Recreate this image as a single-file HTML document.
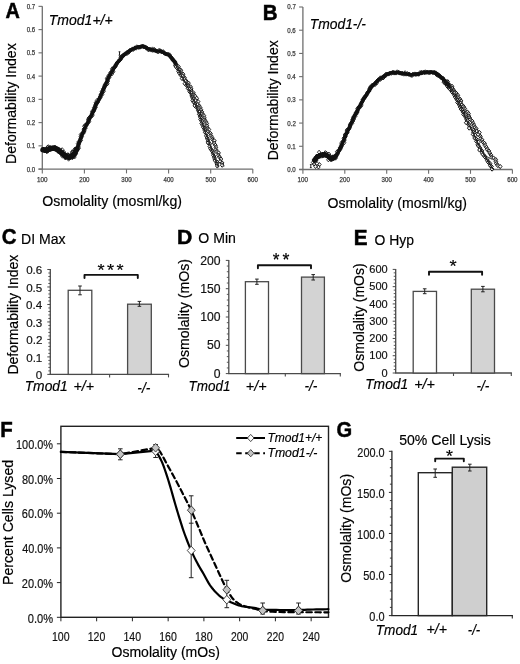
<!DOCTYPE html>
<html><head><meta charset="utf-8"><style>
html,body{margin:0;padding:0;background:#fff;}
svg{display:block;}
text{font-family:"Liberation Sans", sans-serif;}
svg{will-change:transform;}
</style></head><body>
<svg width="520" height="664" viewBox="0 0 520 664">
<defs><path id="dm" d="M0,-2.1 L1.8,0 L0,2.1 L-1.8,0Z" fill="#fff" stroke="#111" stroke-width="1"/><path id="dn" d="M0,-2 L1.7,0 L0,2 L-1.7,0Z" fill="none" stroke="#111" stroke-width="0.85"/></defs>
<rect x="0" y="0" width="520" height="664" fill="#fff"/>
<text x="5.55" y="18.25" font-size="21.88" font-weight="bold" fill="#000" stroke="#000" stroke-width="0.5" textLength="14.34" lengthAdjust="spacingAndGlyphs">A</text>
<text x="262.72" y="19.65" font-size="21.45" font-weight="bold" fill="#000" stroke="#000" stroke-width="0.5" textLength="14.8" lengthAdjust="spacingAndGlyphs">B</text>
<text x="1.73" y="244.35" font-size="21.93" font-weight="bold" fill="#000" stroke="#000" stroke-width="0.5" textLength="14.77" lengthAdjust="spacingAndGlyphs">C</text>
<text x="176.98" y="243.75" font-size="21.01" font-weight="bold" fill="#000" stroke="#000" stroke-width="0.5" textLength="15.27" lengthAdjust="spacingAndGlyphs">D</text>
<text x="353.70" y="245.05" font-size="21.59" font-weight="bold" fill="#000" stroke="#000" stroke-width="0.5" textLength="13.81" lengthAdjust="spacingAndGlyphs">E</text>
<text x="0.32" y="437.45" font-size="21.59" font-weight="bold" fill="#000" stroke="#000" stroke-width="0.5" textLength="12.46" lengthAdjust="spacingAndGlyphs">F</text>
<text x="336.54" y="437.45" font-size="22.43" font-weight="bold" fill="#000" stroke="#000" stroke-width="0.5" textLength="15.67" lengthAdjust="spacingAndGlyphs">G</text>
<line x1="42.30" y1="6.35" x2="42.30" y2="169.10" stroke="#6e6e6e" stroke-width="1.3"/>
<line x1="38.50" y1="169.10" x2="252.80" y2="169.10" stroke="#6e6e6e" stroke-width="1.3"/>
<line x1="38.50" y1="169.10" x2="42.30" y2="169.10" stroke="#6e6e6e" stroke-width="1.1"/>
<text x="26.66" y="171.55" font-size="6.8" fill="#3a3a3a" stroke="#3a3a3a" stroke-width="0.25" textLength="8.46" lengthAdjust="spacingAndGlyphs">0.0</text>
<line x1="38.50" y1="145.85" x2="42.30" y2="145.85" stroke="#6e6e6e" stroke-width="1.1"/>
<text x="26.65" y="148.30" font-size="6.8" fill="#3a3a3a" stroke="#3a3a3a" stroke-width="0.25" textLength="8.52" lengthAdjust="spacingAndGlyphs">0.1</text>
<line x1="38.50" y1="122.60" x2="42.30" y2="122.60" stroke="#6e6e6e" stroke-width="1.1"/>
<text x="26.65" y="125.05" font-size="6.8" fill="#3a3a3a" stroke="#3a3a3a" stroke-width="0.25" textLength="8.55" lengthAdjust="spacingAndGlyphs">0.2</text>
<line x1="38.50" y1="99.35" x2="42.30" y2="99.35" stroke="#6e6e6e" stroke-width="1.1"/>
<text x="26.66" y="101.80" font-size="6.8" fill="#3a3a3a" stroke="#3a3a3a" stroke-width="0.25" textLength="8.49" lengthAdjust="spacingAndGlyphs">0.3</text>
<line x1="38.50" y1="76.10" x2="42.30" y2="76.10" stroke="#6e6e6e" stroke-width="1.1"/>
<text x="26.66" y="78.55" font-size="6.8" fill="#3a3a3a" stroke="#3a3a3a" stroke-width="0.25" textLength="8.43" lengthAdjust="spacingAndGlyphs">0.4</text>
<line x1="38.50" y1="52.85" x2="42.30" y2="52.85" stroke="#6e6e6e" stroke-width="1.1"/>
<text x="26.66" y="55.30" font-size="6.8" fill="#3a3a3a" stroke="#3a3a3a" stroke-width="0.25" textLength="8.49" lengthAdjust="spacingAndGlyphs">0.5</text>
<line x1="38.50" y1="29.60" x2="42.30" y2="29.60" stroke="#6e6e6e" stroke-width="1.1"/>
<text x="26.66" y="32.05" font-size="6.8" fill="#3a3a3a" stroke="#3a3a3a" stroke-width="0.25" textLength="8.49" lengthAdjust="spacingAndGlyphs">0.6</text>
<line x1="38.50" y1="6.35" x2="42.30" y2="6.35" stroke="#6e6e6e" stroke-width="1.1"/>
<text x="26.65" y="8.80" font-size="6.8" fill="#3a3a3a" stroke="#3a3a3a" stroke-width="0.25" textLength="8.55" lengthAdjust="spacingAndGlyphs">0.7</text>
<line x1="42.30" y1="169.10" x2="42.30" y2="173.40" stroke="#6e6e6e" stroke-width="1.1"/>
<text x="36.93" y="181.60" font-size="6.6" fill="#3a3a3a" stroke="#3a3a3a" stroke-width="0.25" textLength="10.52" lengthAdjust="spacingAndGlyphs">100</text>
<line x1="84.40" y1="169.10" x2="84.40" y2="173.40" stroke="#6e6e6e" stroke-width="1.1"/>
<text x="79.19" y="181.60" font-size="6.6" fill="#3a3a3a" stroke="#3a3a3a" stroke-width="0.25" textLength="10.35" lengthAdjust="spacingAndGlyphs">200</text>
<line x1="126.50" y1="169.10" x2="126.50" y2="173.40" stroke="#6e6e6e" stroke-width="1.1"/>
<text x="121.35" y="181.60" font-size="6.6" fill="#3a3a3a" stroke="#3a3a3a" stroke-width="0.25" textLength="10.28" lengthAdjust="spacingAndGlyphs">300</text>
<line x1="168.60" y1="169.10" x2="168.60" y2="173.40" stroke="#6e6e6e" stroke-width="1.1"/>
<text x="163.58" y="181.60" font-size="6.6" fill="#3a3a3a" stroke="#3a3a3a" stroke-width="0.25" textLength="10.16" lengthAdjust="spacingAndGlyphs">400</text>
<line x1="210.70" y1="169.10" x2="210.70" y2="173.40" stroke="#6e6e6e" stroke-width="1.1"/>
<text x="205.55" y="181.60" font-size="6.6" fill="#3a3a3a" stroke="#3a3a3a" stroke-width="0.25" textLength="10.28" lengthAdjust="spacingAndGlyphs">500</text>
<line x1="252.80" y1="169.10" x2="252.80" y2="173.40" stroke="#6e6e6e" stroke-width="1.1"/>
<text x="247.59" y="181.60" font-size="6.6" fill="#3a3a3a" stroke="#3a3a3a" stroke-width="0.25" textLength="10.35" lengthAdjust="spacingAndGlyphs">600</text>
<line x1="302.90" y1="7.00" x2="302.90" y2="169.50" stroke="#6e6e6e" stroke-width="1.3"/>
<line x1="299.10" y1="169.50" x2="512.40" y2="169.50" stroke="#6e6e6e" stroke-width="1.3"/>
<line x1="299.10" y1="169.50" x2="302.90" y2="169.50" stroke="#6e6e6e" stroke-width="1.1"/>
<text x="287.26" y="171.95" font-size="6.8" fill="#3a3a3a" stroke="#3a3a3a" stroke-width="0.25" textLength="8.46" lengthAdjust="spacingAndGlyphs">0.0</text>
<line x1="299.10" y1="146.29" x2="302.90" y2="146.29" stroke="#6e6e6e" stroke-width="1.1"/>
<text x="287.25" y="148.74" font-size="6.8" fill="#3a3a3a" stroke="#3a3a3a" stroke-width="0.25" textLength="8.52" lengthAdjust="spacingAndGlyphs">0.1</text>
<line x1="299.10" y1="123.07" x2="302.90" y2="123.07" stroke="#6e6e6e" stroke-width="1.1"/>
<text x="287.25" y="125.52" font-size="6.8" fill="#3a3a3a" stroke="#3a3a3a" stroke-width="0.25" textLength="8.55" lengthAdjust="spacingAndGlyphs">0.2</text>
<line x1="299.10" y1="99.86" x2="302.90" y2="99.86" stroke="#6e6e6e" stroke-width="1.1"/>
<text x="287.26" y="102.31" font-size="6.8" fill="#3a3a3a" stroke="#3a3a3a" stroke-width="0.25" textLength="8.49" lengthAdjust="spacingAndGlyphs">0.3</text>
<line x1="299.10" y1="76.64" x2="302.90" y2="76.64" stroke="#6e6e6e" stroke-width="1.1"/>
<text x="287.26" y="79.09" font-size="6.8" fill="#3a3a3a" stroke="#3a3a3a" stroke-width="0.25" textLength="8.43" lengthAdjust="spacingAndGlyphs">0.4</text>
<line x1="299.10" y1="53.43" x2="302.90" y2="53.43" stroke="#6e6e6e" stroke-width="1.1"/>
<text x="287.26" y="55.88" font-size="6.8" fill="#3a3a3a" stroke="#3a3a3a" stroke-width="0.25" textLength="8.49" lengthAdjust="spacingAndGlyphs">0.5</text>
<line x1="299.10" y1="30.21" x2="302.90" y2="30.21" stroke="#6e6e6e" stroke-width="1.1"/>
<text x="287.26" y="32.66" font-size="6.8" fill="#3a3a3a" stroke="#3a3a3a" stroke-width="0.25" textLength="8.49" lengthAdjust="spacingAndGlyphs">0.6</text>
<line x1="299.10" y1="7.00" x2="302.90" y2="7.00" stroke="#6e6e6e" stroke-width="1.1"/>
<text x="287.25" y="9.45" font-size="6.8" fill="#3a3a3a" stroke="#3a3a3a" stroke-width="0.25" textLength="8.55" lengthAdjust="spacingAndGlyphs">0.7</text>
<line x1="302.90" y1="169.50" x2="302.90" y2="173.80" stroke="#6e6e6e" stroke-width="1.1"/>
<text x="297.53" y="182.00" font-size="6.6" fill="#3a3a3a" stroke="#3a3a3a" stroke-width="0.25" textLength="10.52" lengthAdjust="spacingAndGlyphs">100</text>
<line x1="344.80" y1="169.50" x2="344.80" y2="173.80" stroke="#6e6e6e" stroke-width="1.1"/>
<text x="339.59" y="182.00" font-size="6.6" fill="#3a3a3a" stroke="#3a3a3a" stroke-width="0.25" textLength="10.35" lengthAdjust="spacingAndGlyphs">200</text>
<line x1="386.70" y1="169.50" x2="386.70" y2="173.80" stroke="#6e6e6e" stroke-width="1.1"/>
<text x="381.55" y="182.00" font-size="6.6" fill="#3a3a3a" stroke="#3a3a3a" stroke-width="0.25" textLength="10.28" lengthAdjust="spacingAndGlyphs">300</text>
<line x1="428.60" y1="169.50" x2="428.60" y2="173.80" stroke="#6e6e6e" stroke-width="1.1"/>
<text x="423.58" y="182.00" font-size="6.6" fill="#3a3a3a" stroke="#3a3a3a" stroke-width="0.25" textLength="10.16" lengthAdjust="spacingAndGlyphs">400</text>
<line x1="470.50" y1="169.50" x2="470.50" y2="173.80" stroke="#6e6e6e" stroke-width="1.1"/>
<text x="465.35" y="182.00" font-size="6.6" fill="#3a3a3a" stroke="#3a3a3a" stroke-width="0.25" textLength="10.28" lengthAdjust="spacingAndGlyphs">500</text>
<line x1="512.40" y1="169.50" x2="512.40" y2="173.80" stroke="#6e6e6e" stroke-width="1.1"/>
<text x="507.19" y="182.00" font-size="6.6" fill="#3a3a3a" stroke="#3a3a3a" stroke-width="0.25" textLength="10.35" lengthAdjust="spacingAndGlyphs">600</text>
<text x="48.74" y="24.70" font-size="14.48" font-style="italic" fill="#000" stroke="#000" stroke-width="0.18" textLength="63.93" lengthAdjust="spacingAndGlyphs">Tmod1+/+</text>
<text x="309.65" y="29.30" font-size="14.9" font-style="italic" fill="#000" stroke="#000" stroke-width="0.18" textLength="56.35" lengthAdjust="spacingAndGlyphs">Tmod1-/-</text>
<text x="42.26" y="206.30" font-size="15.03" fill="#000" stroke="#000" stroke-width="0.18" textLength="139.75" lengthAdjust="spacingAndGlyphs">Osmolality (mosml/kg)</text>
<text x="327.47" y="208.30" font-size="15.03" fill="#000" stroke="#000" stroke-width="0.18" textLength="139.55" lengthAdjust="spacingAndGlyphs">Osmolality (mosml/kg)</text>
<text transform="translate(15.75,163.93) rotate(-90)" x="0" y="0" font-size="15.17" fill="#000" stroke="#000" stroke-width="0.18" textLength="120.66" lengthAdjust="spacingAndGlyphs">Deformability Index</text>
<text transform="translate(278.25,160.32) rotate(-90)" x="0" y="0" font-size="15.17" fill="#000" stroke="#000" stroke-width="0.18" textLength="120.05" lengthAdjust="spacingAndGlyphs">Deformability Index</text>
<path d="M43.00,149.70 L43.31,149.79 L43.74,149.94 L44.25,150.10 L44.81,150.24 L45.41,150.32 L46.00,150.30 L46.60,150.15 L47.22,149.89 L47.88,149.56 L48.56,149.23 L49.26,148.92 L50.00,148.70 L50.78,148.52 L51.59,148.34 L52.44,148.20 L53.30,148.12 L54.16,148.14 L55.00,148.30 L55.83,148.61 L56.67,149.07 L57.50,149.62 L58.33,150.23 L59.17,150.87 L60.00,151.50 L60.84,152.16 L61.70,152.89 L62.56,153.65 L63.41,154.39 L64.22,155.05 L65.00,155.60 L65.72,156.05 L66.41,156.45 L67.06,156.77 L67.70,157.02 L68.34,157.16 L69.00,157.20 L69.68,157.12 L70.37,156.93 L71.06,156.65 L71.74,156.28 L72.39,155.83 L73.00,155.30 L73.57,154.66 L74.11,153.90 L74.62,153.06 L75.11,152.19 L75.57,151.32 L76.00,150.50 L76.39,149.76 L76.73,149.05 L77.05,148.36 L77.36,147.64 L77.67,146.86 L78.00,146.00 L78.33,145.08 L78.64,144.13 L78.96,143.13 L79.31,142.05 L79.72,140.85 L80.20,139.50 L80.78,137.93 L81.45,136.16 L82.18,134.27 L82.93,132.35 L83.68,130.52 L84.40,128.86 L85.10,127.40 L85.80,126.06 L86.50,124.80 L87.20,123.57 L87.90,122.32 L88.60,120.99 L89.30,119.60 L90.00,118.18 L90.69,116.73 L91.39,115.27 L92.09,113.79 L92.80,112.30 L93.51,110.78 L94.23,109.24 L94.95,107.68 L95.67,106.11 L96.39,104.55 L97.10,103.00 L97.81,101.46 L98.53,99.91 L99.24,98.38 L99.94,96.85 L100.63,95.36 L101.30,93.90 L101.95,92.50 L102.57,91.15 L103.18,89.83 L103.79,88.51 L104.39,87.17 L105.00,85.80 L105.61,84.37 L106.21,82.89 L106.81,81.40 L107.42,79.92 L108.05,78.48 L108.70,77.10 L109.38,75.80 L110.09,74.55 L110.81,73.34 L111.54,72.15 L112.28,70.98 L113.00,69.80 L113.72,68.61 L114.43,67.41 L115.15,66.22 L115.87,65.06 L116.58,63.95 L117.30,62.90 L118.02,61.93 L118.73,61.01 L119.44,60.14 L120.16,59.31 L120.88,58.50 L121.60,57.70 L122.33,56.90 L123.06,56.12 L123.80,55.36 L124.54,54.63 L125.27,53.94 L126.00,53.30 L126.72,52.71 L127.44,52.16 L128.16,51.66 L128.87,51.18 L129.58,50.73 L130.30,50.30 L131.02,49.89 L131.73,49.50 L132.45,49.14 L133.17,48.81 L133.88,48.49 L134.60,48.20 L135.31,47.92 L136.02,47.67 L136.73,47.43 L137.44,47.22 L138.17,47.04 L138.90,46.90 L139.65,46.78 L140.41,46.67 L141.19,46.60 L141.96,46.57 L142.74,46.60 L143.50,46.70 L144.26,46.90 L145.01,47.20 L145.77,47.56 L146.52,47.93 L147.26,48.29 L148.00,48.60 L148.73,48.85 L149.45,49.08 L150.16,49.30 L150.87,49.50 L151.59,49.70 L152.30,49.90 L153.02,50.10 L153.73,50.31 L154.44,50.51 L155.16,50.70 L155.88,50.87 L156.60,51.02 L157.33,51.10 L158.06,51.14 L158.80,51.15 L159.54,51.18 L160.27,51.25 L161.00,51.41 L161.72,51.66 L162.44,51.98 L163.16,52.34 L163.87,52.73 L164.58,53.13 L165.30,53.51 L166.02,53.85 L166.75,54.17 L167.47,54.49 L168.20,54.85 L168.91,55.28 L169.60,55.80 L170.28,56.43 L170.94,57.16 L171.60,57.95 L172.24,58.78 L172.88,59.64 L173.50,60.50 L174.10,61.35 L174.69,62.21 L175.26,63.10 L175.83,64.02 L176.40,64.98 L177.00,66.00 L177.60,67.07 L178.19,68.18 L178.78,69.33 L179.40,70.53 L180.07,71.79 L180.80,73.10 L181.62,74.49" fill="none" stroke="#111" stroke-width="3.4" stroke-linejoin="round" stroke-linecap="round"/>
<path d="M43.00,149.70 L43.31,149.79 L43.74,149.94 L44.25,150.10 L44.81,150.24 L45.41,150.32 L46.00,150.30 L46.60,150.15 L47.22,149.89 L47.88,149.56 L48.56,149.23 L49.26,148.92 L50.00,148.70 L50.78,148.52 L51.59,148.34 L52.44,148.20 L53.30,148.12 L54.16,148.14 L55.00,148.30 L55.83,148.61 L56.67,149.07 L57.50,149.62 L58.33,150.23 L59.17,150.87 L60.00,151.50 L60.84,152.16 L61.70,152.89 L62.56,153.65 L63.41,154.39 L64.22,155.05 L65.00,155.60 L65.72,156.05 L66.41,156.45 L67.06,156.77 L67.70,157.02 L68.34,157.16 L69.00,157.20 L69.68,157.12 L70.37,156.93 L71.06,156.65 L71.74,156.28 L72.39,155.83 L73.00,155.30 L73.57,154.66 L74.11,153.90 L74.62,153.06 L75.11,152.19 L75.57,151.32 L76.00,150.50 L76.39,149.76 L76.73,149.05" fill="none" stroke="#111" stroke-width="5.5" stroke-linejoin="round" stroke-linecap="round"/>
<use href="#dn" x="44.1" y="149.7"/>
<use href="#dn" x="44.5" y="149.8"/>
<use href="#dn" x="45.4" y="149.0"/>
<use href="#dn" x="46.7" y="151.7"/>
<use href="#dn" x="47.5" y="151.3"/>
<use href="#dn" x="47.9" y="150.2"/>
<use href="#dn" x="47.6" y="147.1"/>
<use href="#dn" x="49.5" y="149.6"/>
<use href="#dn" x="48.4" y="146.7"/>
<use href="#dn" x="50.1" y="147.4"/>
<use href="#dn" x="51.4" y="148.8"/>
<use href="#dn" x="52.0" y="149.0"/>
<use href="#dn" x="53.1" y="148.6"/>
<use href="#dn" x="54.5" y="147.2"/>
<use href="#dn" x="54.9" y="149.1"/>
<use href="#dn" x="55.3" y="147.5"/>
<use href="#dn" x="56.2" y="148.3"/>
<use href="#dn" x="56.3" y="149.9"/>
<use href="#dn" x="57.4" y="148.8"/>
<use href="#dn" x="58.9" y="149.7"/>
<use href="#dn" x="59.5" y="149.7"/>
<use href="#dn" x="58.5" y="151.1"/>
<use href="#dn" x="60.4" y="151.9"/>
<use href="#dn" x="62.2" y="149.7"/>
<use href="#dn" x="61.0" y="152.1"/>
<use href="#dn" x="61.3" y="153.5"/>
<use href="#dn" x="64.0" y="152.2"/>
<use href="#dn" x="62.7" y="155.0"/>
<use href="#dn" x="62.5" y="156.2"/>
<use href="#dn" x="63.7" y="154.9"/>
<use href="#dn" x="64.2" y="156.1"/>
<use href="#dn" x="65.5" y="155.1"/>
<use href="#dn" x="66.8" y="155.1"/>
<use href="#dn" x="65.4" y="158.0"/>
<use href="#dn" x="68.3" y="155.1"/>
<use href="#dn" x="68.6" y="159.2"/>
<use href="#dn" x="67.9" y="154.6"/>
<use href="#dn" x="69.9" y="157.6"/>
<use href="#dn" x="70.6" y="155.1"/>
<use href="#dn" x="72.4" y="157.7"/>
<use href="#dn" x="72.6" y="156.1"/>
<use href="#dn" x="74.5" y="157.0"/>
<use href="#dn" x="74.1" y="155.2"/>
<use href="#dn" x="72.4" y="152.5"/>
<use href="#dn" x="75.6" y="154.1"/>
<use href="#dn" x="72.2" y="151.8"/>
<use href="#dn" x="75.8" y="153.4"/>
<use href="#dn" x="75.5" y="151.0"/>
<use href="#dn" x="74.6" y="149.3"/>
<use href="#dn" x="76.9" y="150.5"/>
<use href="#dn" x="77.1" y="149.3"/>
<use href="#dn" x="44.1" y="150.1"/>
<use href="#dn" x="44.9" y="149.9"/>
<use href="#dn" x="45.9" y="150.9"/>
<use href="#dn" x="46.8" y="149.5"/>
<use href="#dn" x="48.1" y="150.4"/>
<use href="#dn" x="48.4" y="148.5"/>
<use href="#dn" x="49.5" y="148.8"/>
<use href="#dn" x="50.6" y="149.4"/>
<use href="#dn" x="51.5" y="149.1"/>
<use href="#dn" x="52.6" y="147.8"/>
<use href="#dn" x="53.7" y="148.8"/>
<use href="#dn" x="54.5" y="148.4"/>
<use href="#dn" x="55.5" y="148.6"/>
<use href="#dn" x="56.5" y="148.9"/>
<use href="#dn" x="57.1" y="149.7"/>
<use href="#dn" x="57.9" y="150.4"/>
<use href="#dn" x="58.2" y="151.5"/>
<use href="#dn" x="59.7" y="151.0"/>
<use href="#dn" x="60.6" y="151.9"/>
<use href="#dn" x="61.4" y="152.4"/>
<use href="#dn" x="61.0" y="153.6"/>
<use href="#dn" x="63.2" y="153.3"/>
<use href="#dn" x="63.4" y="154.6"/>
<use href="#dn" x="64.5" y="154.9"/>
<use href="#dn" x="64.9" y="155.7"/>
<use href="#dn" x="65.3" y="157.4"/>
<use href="#dn" x="66.9" y="156.4"/>
<use href="#dn" x="67.7" y="156.9"/>
<use href="#dn" x="68.7" y="155.7"/>
<use href="#dn" x="69.7" y="157.7"/>
<use href="#dn" x="70.8" y="156.7"/>
<use href="#dn" x="72.0" y="156.7"/>
<use href="#dn" x="71.8" y="155.1"/>
<use href="#dn" x="73.1" y="155.0"/>
<use href="#dn" x="74.0" y="155.1"/>
<use href="#dn" x="74.7" y="154.1"/>
<use href="#dn" x="75.0" y="153.1"/>
<use href="#dn" x="75.5" y="151.7"/>
<use href="#dn" x="75.7" y="150.9"/>
<use href="#dn" x="76.6" y="150.2"/>
<use href="#dn" x="76.8" y="148.9"/>
<use href="#dn" x="77.6" y="148.5"/>
<use href="#dn" x="78.8" y="148.1"/>
<use href="#dn" x="78.3" y="146.6"/>
<use href="#dn" x="78.3" y="145.4"/>
<use href="#dn" x="78.7" y="144.4"/>
<use href="#dn" x="78.0" y="143.5"/>
<use href="#dn" x="79.4" y="142.9"/>
<use href="#dn" x="78.8" y="141.7"/>
<use href="#dn" x="80.5" y="140.8"/>
<use href="#dn" x="80.8" y="140.2"/>
<use href="#dn" x="80.4" y="139.0"/>
<use href="#dn" x="81.3" y="137.8"/>
<use href="#dn" x="80.8" y="136.5"/>
<use href="#dn" x="82.0" y="136.2"/>
<use href="#dn" x="80.9" y="134.5"/>
<use href="#dn" x="82.1" y="134.2"/>
<use href="#dn" x="82.8" y="133.2"/>
<use href="#dn" x="83.7" y="132.8"/>
<use href="#dn" x="84.0" y="131.4"/>
<use href="#dn" x="84.4" y="130.8"/>
<use href="#dn" x="83.8" y="129.2"/>
<use href="#dn" x="84.6" y="128.6"/>
<use href="#dn" x="85.6" y="128.1"/>
<use href="#dn" x="84.3" y="126.3"/>
<use href="#dn" x="85.0" y="125.3"/>
<use href="#dn" x="86.5" y="125.2"/>
<use href="#dn" x="86.9" y="124.1"/>
<use href="#dn" x="87.5" y="123.1"/>
<use href="#dn" x="87.9" y="122.3"/>
<use href="#dn" x="89.1" y="121.7"/>
<use href="#dn" x="88.5" y="120.4"/>
<use href="#dn" x="88.2" y="119.5"/>
<use href="#dn" x="88.8" y="118.2"/>
<use href="#dn" x="89.5" y="117.7"/>
<use href="#dn" x="90.4" y="117.0"/>
<use href="#dn" x="90.7" y="116.0"/>
<use href="#dn" x="92.3" y="115.7"/>
<use href="#dn" x="92.2" y="114.4"/>
<use href="#dn" x="92.1" y="113.6"/>
<use href="#dn" x="92.5" y="112.3"/>
<use href="#dn" x="92.2" y="111.4"/>
<use href="#dn" x="94.1" y="110.9"/>
<use href="#dn" x="94.0" y="109.7"/>
<use href="#dn" x="94.4" y="109.2"/>
<use href="#dn" x="94.0" y="107.8"/>
<use href="#dn" x="95.6" y="107.4"/>
<use href="#dn" x="95.1" y="106.1"/>
<use href="#dn" x="95.3" y="105.0"/>
<use href="#dn" x="95.9" y="104.1"/>
<use href="#dn" x="95.7" y="102.9"/>
<use href="#dn" x="96.8" y="102.7"/>
<use href="#dn" x="98.1" y="101.9"/>
<use href="#dn" x="97.0" y="100.4"/>
<use href="#dn" x="98.7" y="100.0"/>
<use href="#dn" x="99.4" y="99.0"/>
<use href="#dn" x="99.7" y="98.1"/>
<use href="#dn" x="100.5" y="97.3"/>
<use href="#dn" x="100.3" y="96.6"/>
<use href="#dn" x="101.2" y="95.3"/>
<use href="#dn" x="100.9" y="94.4"/>
<use href="#dn" x="102.3" y="94.2"/>
<use href="#dn" x="102.3" y="92.3"/>
<use href="#dn" x="101.9" y="91.4"/>
<use href="#dn" x="103.7" y="91.2"/>
<use href="#dn" x="103.5" y="89.9"/>
<use href="#dn" x="103.1" y="88.8"/>
<use href="#dn" x="104.2" y="88.0"/>
<use href="#dn" x="104.4" y="87.2"/>
<use href="#dn" x="104.3" y="86.1"/>
<use href="#dn" x="105.7" y="85.5"/>
<use href="#dn" x="105.1" y="84.3"/>
<use href="#dn" x="107.4" y="83.8"/>
<use href="#dn" x="106.5" y="83.1"/>
<use href="#dn" x="107.1" y="81.7"/>
<use href="#dn" x="108.0" y="81.0"/>
<use href="#dn" x="107.5" y="79.7"/>
<use href="#dn" x="107.0" y="78.3"/>
<use href="#dn" x="108.4" y="78.1"/>
<use href="#dn" x="109.5" y="77.1"/>
<use href="#dn" x="108.5" y="75.9"/>
<use href="#dn" x="109.8" y="75.3"/>
<use href="#dn" x="109.9" y="74.4"/>
<use href="#dn" x="111.8" y="74.0"/>
<use href="#dn" x="110.5" y="72.5"/>
<use href="#dn" x="112.6" y="72.2"/>
<use href="#dn" x="113.2" y="71.4"/>
<use href="#dn" x="112.4" y="69.9"/>
<use href="#dn" x="112.2" y="68.8"/>
<use href="#dn" x="113.8" y="68.3"/>
<use href="#dn" x="114.0" y="67.4"/>
<use href="#dn" x="115.1" y="66.8"/>
<use href="#dn" x="115.7" y="66.0"/>
<use href="#dn" x="115.8" y="64.8"/>
<use href="#dn" x="116.4" y="64.3"/>
<use href="#dn" x="116.7" y="63.1"/>
<use href="#dn" x="117.5" y="62.5"/>
<use href="#dn" x="118.2" y="61.7"/>
<use href="#dn" x="118.6" y="61.0"/>
<use href="#dn" x="119.7" y="60.2"/>
<use href="#dn" x="120.2" y="59.6"/>
<use href="#dn" x="120.8" y="58.9"/>
<use href="#dn" x="120.6" y="57.2"/>
<use href="#dn" x="121.8" y="56.7"/>
<use href="#dn" x="122.0" y="56.3"/>
<use href="#dn" x="123.2" y="55.1"/>
<use href="#dn" x="123.9" y="55.0"/>
<use href="#dn" x="124.7" y="53.9"/>
<use href="#dn" x="125.8" y="53.8"/>
<use href="#dn" x="127.0" y="53.5"/>
<use href="#dn" x="127.2" y="52.3"/>
<use href="#dn" x="128.6" y="52.4"/>
<use href="#dn" x="129.0" y="51.8"/>
<use href="#dn" x="129.7" y="50.6"/>
<use href="#dn" x="130.6" y="50.0"/>
<use href="#dn" x="131.7" y="49.9"/>
<use href="#dn" x="132.6" y="48.9"/>
<use href="#dn" x="133.4" y="49.4"/>
<use href="#dn" x="134.5" y="48.3"/>
<use href="#dn" x="135.1" y="47.8"/>
<use href="#dn" x="136.1" y="48.2"/>
<use href="#dn" x="136.8" y="46.8"/>
<use href="#dn" x="138.1" y="47.3"/>
<use href="#dn" x="138.9" y="47.3"/>
<use href="#dn" x="140.0" y="47.2"/>
<use href="#dn" x="140.8" y="46.7"/>
<use href="#dn" x="141.9" y="46.4"/>
<use href="#dn" x="142.8" y="46.0"/>
<use href="#dn" x="143.6" y="46.7"/>
<use href="#dn" x="144.5" y="46.8"/>
<use href="#dn" x="145.9" y="47.2"/>
<use href="#dn" x="146.4" y="48.2"/>
<use href="#dn" x="147.3" y="48.2"/>
<use href="#dn" x="148.2" y="49.7"/>
<use href="#dn" x="149.0" y="49.6"/>
<use href="#dn" x="150.0" y="49.2"/>
<use href="#dn" x="151.3" y="50.1"/>
<use href="#dn" x="152.5" y="48.9"/>
<use href="#dn" x="152.8" y="50.4"/>
<use href="#dn" x="154.3" y="49.4"/>
<use href="#dn" x="155.0" y="50.3"/>
<use href="#dn" x="156.1" y="50.9"/>
<use href="#dn" x="157.2" y="51.4"/>
<use href="#dn" x="158.3" y="52.0"/>
<use href="#dn" x="159.0" y="50.4"/>
<use href="#dn" x="160.0" y="50.6"/>
<use href="#dn" x="161.1" y="51.4"/>
<use href="#dn" x="161.6" y="51.9"/>
<use href="#dn" x="163.2" y="51.6"/>
<use href="#dn" x="163.8" y="52.6"/>
<use href="#dn" x="164.6" y="53.1"/>
<use href="#dn" x="165.4" y="54.0"/>
<use href="#dn" x="166.4" y="54.0"/>
<use href="#dn" x="167.0" y="54.2"/>
<use href="#dn" x="168.5" y="54.4"/>
<use href="#dn" x="169.6" y="54.8"/>
<use href="#dn" x="169.7" y="56.0"/>
<use href="#dn" x="170.6" y="56.6"/>
<use href="#dn" x="171.1" y="57.8"/>
<use href="#dn" x="171.8" y="58.2"/>
<use href="#dn" x="172.5" y="59.0"/>
<use href="#dn" x="172.8" y="60.2"/>
<use href="#dn" x="173.8" y="60.3"/>
<use href="#dn" x="174.3" y="61.3"/>
<use href="#dn" x="175.3" y="62.0"/>
<use href="#dn" x="175.6" y="63.1"/>
<use href="#dn" x="175.6" y="64.1"/>
<use href="#dn" x="175.2" y="65.5"/>
<use href="#dn" x="176.4" y="66.1"/>
<use href="#dn" x="176.6" y="66.6"/>
<use href="#dn" x="178.2" y="67.4"/>
<use href="#dn" x="178.2" y="68.9"/>
<use href="#dn" x="178.7" y="69.6"/>
<use href="#dn" x="178.9" y="70.5"/>
<use href="#dn" x="179.4" y="71.2"/>
<use href="#dn" x="179.8" y="71.9"/>
<use href="#dn" x="180.0" y="73.0"/>
<use href="#dn" x="181.2" y="74.1"/>
<use href="#dm" x="178.5" y="66.7"/>
<use href="#dm" x="178.8" y="69.0"/>
<use href="#dm" x="180.9" y="70.3"/>
<use href="#dm" x="181.2" y="72.7"/>
<use href="#dm" x="183.1" y="74.2"/>
<use href="#dm" x="182.8" y="76.5"/>
<use href="#dm" x="184.6" y="77.8"/>
<use href="#dm" x="185.1" y="79.9"/>
<use href="#dm" x="186.6" y="81.5"/>
<use href="#dm" x="188.5" y="83.1"/>
<use href="#dm" x="188.4" y="85.4"/>
<use href="#dm" x="190.6" y="86.9"/>
<use href="#dm" x="191.2" y="88.9"/>
<use href="#dm" x="191.3" y="91.3"/>
<use href="#dm" x="193.4" y="92.8"/>
<use href="#dm" x="193.9" y="94.7"/>
<use href="#dm" x="195.1" y="96.3"/>
<use href="#dm" x="196.7" y="98.3"/>
<use href="#dm" x="195.7" y="100.5"/>
<use href="#dm" x="198.1" y="101.6"/>
<use href="#dm" x="197.7" y="104.3"/>
<use href="#dm" x="199.3" y="106.0"/>
<use href="#dm" x="200.2" y="107.7"/>
<use href="#dm" x="200.9" y="109.6"/>
<use href="#dm" x="201.9" y="111.9"/>
<use href="#dm" x="202.3" y="113.9"/>
<use href="#dm" x="203.9" y="115.6"/>
<use href="#dm" x="204.4" y="117.9"/>
<use href="#dm" x="204.4" y="119.9"/>
<use href="#dm" x="205.8" y="121.5"/>
<use href="#dm" x="206.8" y="123.5"/>
<use href="#dm" x="206.9" y="125.8"/>
<use href="#dm" x="207.5" y="128.2"/>
<use href="#dm" x="208.9" y="129.5"/>
<use href="#dm" x="207.6" y="131.9"/>
<use href="#dm" x="210.5" y="133.5"/>
<use href="#dm" x="210.9" y="135.6"/>
<use href="#dm" x="212.0" y="137.4"/>
<use href="#dm" x="212.6" y="139.5"/>
<use href="#dm" x="214.4" y="140.8"/>
<use href="#dm" x="214.0" y="143.2"/>
<use href="#dm" x="215.4" y="145.3"/>
<use href="#dm" x="215.9" y="147.3"/>
<use href="#dm" x="215.9" y="149.5"/>
<use href="#dm" x="216.8" y="151.4"/>
<use href="#dm" x="218.6" y="152.9"/>
<use href="#dm" x="218.4" y="155.2"/>
<use href="#dm" x="219.6" y="157.2"/>
<use href="#dm" x="220.9" y="159.0"/>
<use href="#dm" x="220.2" y="161.4"/>
<use href="#dm" x="222.1" y="162.9"/>
<use href="#dm" x="222.2" y="165.2"/>
<use href="#dm" x="176.1" y="66.8"/>
<use href="#dm" x="177.5" y="68.3"/>
<use href="#dm" x="179.4" y="69.7"/>
<use href="#dm" x="178.6" y="71.6"/>
<use href="#dm" x="179.7" y="73.5"/>
<use href="#dm" x="180.8" y="75.2"/>
<use href="#dm" x="182.7" y="76.1"/>
<use href="#dm" x="182.1" y="78.6"/>
<use href="#dm" x="184.3" y="79.3"/>
<use href="#dm" x="185.5" y="81.2"/>
<use href="#dm" x="184.9" y="83.7"/>
<use href="#dm" x="186.6" y="85.2"/>
<use href="#dm" x="187.7" y="86.2"/>
<use href="#dm" x="188.0" y="88.4"/>
<use href="#dm" x="189.5" y="89.4"/>
<use href="#dm" x="189.7" y="91.7"/>
<use href="#dm" x="191.3" y="93.0"/>
<use href="#dm" x="191.6" y="95.0"/>
<use href="#dm" x="192.1" y="96.8"/>
<use href="#dm" x="193.0" y="98.7"/>
<use href="#dm" x="192.7" y="100.6"/>
<use href="#dm" x="193.7" y="102.1"/>
<use href="#dm" x="195.0" y="103.9"/>
<use href="#dm" x="194.9" y="105.8"/>
<use href="#dm" x="196.6" y="107.2"/>
<use href="#dm" x="198.1" y="108.6"/>
<use href="#dm" x="198.3" y="110.6"/>
<use href="#dm" x="199.1" y="111.9"/>
<use href="#dm" x="199.2" y="114.3"/>
<use href="#dm" x="200.1" y="116.1"/>
<use href="#dm" x="200.5" y="117.7"/>
<use href="#dm" x="200.6" y="119.5"/>
<use href="#dm" x="201.9" y="121.3"/>
<use href="#dm" x="201.7" y="123.4"/>
<use href="#dm" x="202.5" y="125.0"/>
<use href="#dm" x="203.3" y="127.2"/>
<use href="#dm" x="204.5" y="128.9"/>
<use href="#dm" x="204.9" y="130.3"/>
<use href="#dm" x="205.2" y="132.4"/>
<use href="#dm" x="206.5" y="133.3"/>
<use href="#dm" x="206.3" y="135.9"/>
<use href="#dm" x="207.1" y="138.0"/>
<use href="#dm" x="207.8" y="139.3"/>
<use href="#dm" x="208.1" y="141.2"/>
<use href="#dm" x="208.1" y="142.9"/>
<use href="#dm" x="209.7" y="143.9"/>
<use href="#dm" x="209.8" y="146.5"/>
<use href="#dm" x="210.5" y="148.7"/>
<use href="#dm" x="211.5" y="149.9"/>
<use href="#dm" x="212.4" y="151.5"/>
<use href="#dm" x="213.2" y="153.5"/>
<use href="#dm" x="213.4" y="155.3"/>
<use href="#dm" x="214.3" y="157.2"/>
<use href="#dm" x="214.6" y="158.9"/>
<use href="#dm" x="215.2" y="160.7"/>
<use href="#dm" x="217.1" y="162.2"/>
<use href="#dm" x="216.8" y="163.9"/>
<use href="#dm" x="217.3" y="166.0"/>
<path d="M175.71,64.98 L176.28,66.00 L176.85,67.07 L177.41,68.18 L177.98,69.33 L178.58,70.53 L179.22,71.79 L179.92,73.10 L180.71,74.49 L181.58,75.96 L182.49,77.48 L183.42,79.03 L184.32,80.58 L185.16,82.10 L185.95,83.60 L186.72,85.10 L187.47,86.59 L188.20,88.09 L188.91,89.59 L189.60,91.10 L190.27,92.61 L190.92,94.13 L191.55,95.65 L192.18,97.17 L192.80,98.69 L193.44,100.20 L194.10,101.70 L194.76,103.18 L195.44,104.66 L196.10,106.14 L196.75,107.65 L197.38,109.20 L197.98,110.78 L198.57,112.40 L199.14,114.04 L199.70,115.69 L200.26,117.35 L200.82,119.00 L201.38,120.66 L201.92,122.32 L202.46,123.99 L203.01,125.66 L203.57,127.33 L204.16,129.00 L204.78,130.67 L205.42,132.33 L206.08,134.00 L206.74,135.67 L207.38,137.33 L208.00,139.00 L208.58,140.68 L209.15,142.37 L209.70,144.06 L210.24,145.74 L210.79,147.39 L211.34,149.00 L211.90,150.60 L212.48,152.20 L213.06,153.77 L213.63,155.28 L214.17,156.70 L214.68,158.00 L215.15,159.17 L215.61,160.25 L216.04,161.24 L216.44,162.14 L216.80,162.96 L217.12,163.70 L217.38,164.37 L217.61,164.95 L217.80,165.46 L217.95,165.88 L218.07,166.23 L218.16,166.50" fill="none" stroke="#222" stroke-width="1.3" stroke-linejoin="round" stroke-linecap="round"/>
<path d="M177.32,64.98 L177.95,66.00 L178.57,67.07 L179.19,68.18 L179.81,69.33 L180.47,70.53 L181.16,71.79 L181.92,73.10 L182.76,74.49 L183.69,75.96 L184.65,77.48 L185.63,79.03 L186.59,80.58 L187.49,82.10 L188.34,83.60 L189.16,85.10 L189.96,86.59 L190.74,88.09 L191.51,89.59 L192.26,91.10 L192.99,92.61 L193.69,94.13 L194.38,95.65 L195.05,97.17 L195.74,98.69 L196.43,100.20 L197.14,101.70 L197.86,103.18 L198.59,104.66 L199.31,106.14 L200.02,107.65 L200.70,109.20 L201.36,110.78 L202.00,112.40 L202.62,114.04 L203.24,115.69 L203.85,117.35 L204.47,119.00 L205.08,120.66 L205.68,122.32 L206.28,123.99 L206.88,125.66 L207.50,127.33 L208.14,129.00 L208.81,130.67 L209.51,132.33 L210.22,134.00 L210.94,135.67 L211.64,137.33 L212.31,139.00 L212.95,140.68 L213.57,142.37 L214.18,144.06 L214.77,145.74 L215.37,147.39 L215.98,149.00 L216.60,150.60 L217.24,152.20 L217.87,153.77 L218.49,155.28 L219.09,156.70 L219.65,158.00 L220.18,159.17 L220.69,160.25 L221.18,161.24 L221.63,162.14 L222.05,162.96 L222.42,163.70 L222.74,164.37 L223.02,164.95 L223.27,165.46 L223.47,165.88 L223.65,166.23 L223.79,166.50" fill="none" stroke="#444" stroke-width="1.0" stroke-linejoin="round" stroke-linecap="round"/>
<path d="M314.66,159.91 L315.10,159.43 L315.55,158.95 L316.00,158.50 L316.46,158.07 L316.95,157.63 L317.46,157.18 L317.97,156.75 L318.49,156.35 L319.00,156.00 L319.51,155.69 L320.02,155.41 L320.53,155.16 L321.04,154.94 L321.53,154.76 L322.00,154.60 L322.44,154.46 L322.85,154.34 L323.25,154.26 L323.65,154.21 L324.06,154.22 L324.50,154.30 L324.97,154.46 L325.44,154.69 L325.94,154.98 L326.44,155.30 L326.97,155.65 L327.50,156.00 L328.06,156.41 L328.65,156.89 L329.25,157.40 L329.85,157.87 L330.44,158.26 L331.00,158.50 L331.52,158.61 L332.02,158.64 L332.50,158.57 L332.98,158.42 L333.48,158.16 L334.00,157.80 L334.56,157.31 L335.15,156.70 L335.75,155.98 L336.35,155.19 L336.94,154.36 L337.50,153.50 L338.03,152.59 L338.56,151.61 L339.06,150.57 L339.56,149.53 L340.03,148.49 L340.50,147.50 L340.95,146.56 L341.37,145.64 L341.79,144.74 L342.19,143.84 L342.59,142.93 L343.00,142.00 L343.39,141.08 L343.74,140.18 L344.10,139.27 L344.48,138.32 L344.90,137.27 L345.40,136.10 L345.99,134.77 L346.64,133.30 L347.35,131.74 L348.08,130.14 L348.80,128.54 L349.50,127.00 L350.18,125.48 L350.86,123.95 L351.54,122.42 L352.21,120.93 L352.86,119.48 L353.50,118.10 L354.12,116.79 L354.72,115.54 L355.31,114.34 L355.89,113.18 L356.45,112.07 L357.00,111.00 L357.51,110.03 L357.96,109.16 L358.41,108.34 L358.87,107.50 L359.39,106.57 L360.00,105.50 L360.71,104.25 L361.50,102.88 L362.35,101.42 L363.23,99.93 L364.12,98.44 L365.00,97.00 L365.88,95.58 L366.77,94.14 L367.68,92.71 L368.59,91.30 L369.50,89.96 L370.40,88.70 L371.30,87.53 L372.20,86.42 L373.10,85.37 L374.00,84.37 L374.90,83.42 L375.80,82.50 L376.69,81.63 L377.57,80.81 L378.46,80.04 L379.35,79.30 L380.26,78.59 L381.20,77.90 L382.18,77.22 L383.18,76.56 L384.20,75.92 L385.23,75.33 L386.27,74.78 L387.30,74.30 L388.36,73.87 L389.46,73.50 L390.57,73.17 L391.64,72.89 L392.63,72.67 L393.50,72.50 L394.19,72.40 L394.71,72.36 L395.16,72.38 L395.61,72.44 L396.16,72.52 L396.90,72.60 L397.85,72.70 L398.94,72.83 L400.12,72.99 L401.36,73.16 L402.60,73.33 L403.80,73.50 L404.96,73.69 L406.13,73.91 L407.30,74.14 L408.47,74.35 L409.64,74.51 L410.80,74.60 L411.96,74.61 L413.11,74.57 L414.26,74.47 L415.40,74.34 L416.55,74.18 L417.70,74.00 L418.85,73.76 L420.00,73.45 L421.15,73.11 L422.30,72.78 L423.45,72.50 L424.60,72.30 L425.77,72.19 L426.96,72.13 L428.15,72.12 L429.32,72.15 L430.44,72.21 L431.50,72.30 L432.48,72.39 L433.39,72.49 L434.26,72.61 L435.11,72.80 L435.95,73.09 L436.80,73.50 L437.67,74.07 L438.53,74.77 L439.39,75.57 L440.24,76.42 L441.08,77.28 L441.90,78.10 L442.70,78.90 L443.48,79.71 L444.25,80.52 L445.01,81.35 L445.76,82.17 L446.50,83.00 L447.22,83.79 L447.90,84.53 L448.57,85.27 L449.26,86.06 L449.99,86.96" fill="none" stroke="#111" stroke-width="3.4" stroke-linejoin="round" stroke-linecap="round"/>
<use href="#dm" x="447.7" y="81.7"/>
<use href="#dm" x="448.2" y="83.9"/>
<use href="#dm" x="449.7" y="85.2"/>
<use href="#dm" x="452.0" y="86.3"/>
<use href="#dm" x="452.5" y="88.4"/>
<use href="#dm" x="453.7" y="90.3"/>
<use href="#dm" x="454.8" y="92.0"/>
<use href="#dm" x="456.2" y="93.2"/>
<use href="#dm" x="457.9" y="95.3"/>
<use href="#dm" x="458.0" y="97.5"/>
<use href="#dm" x="460.0" y="99.2"/>
<use href="#dm" x="461.0" y="100.9"/>
<use href="#dm" x="460.8" y="103.2"/>
<use href="#dm" x="462.0" y="104.9"/>
<use href="#dm" x="463.6" y="106.6"/>
<use href="#dm" x="464.8" y="108.6"/>
<use href="#dm" x="464.6" y="110.8"/>
<use href="#dm" x="467.3" y="112.0"/>
<use href="#dm" x="468.6" y="113.7"/>
<use href="#dm" x="468.7" y="115.9"/>
<use href="#dm" x="469.6" y="117.6"/>
<use href="#dm" x="470.4" y="119.5"/>
<use href="#dm" x="472.2" y="121.2"/>
<use href="#dm" x="473.1" y="123.4"/>
<use href="#dm" x="473.9" y="125.2"/>
<use href="#dm" x="475.0" y="127.4"/>
<use href="#dm" x="476.3" y="128.8"/>
<use href="#dm" x="476.8" y="131.0"/>
<use href="#dm" x="479.4" y="132.5"/>
<use href="#dm" x="478.1" y="134.5"/>
<use href="#dm" x="480.4" y="136.3"/>
<use href="#dm" x="480.7" y="138.5"/>
<use href="#dm" x="482.2" y="139.9"/>
<use href="#dm" x="483.1" y="142.2"/>
<use href="#dm" x="484.6" y="143.4"/>
<use href="#dm" x="485.0" y="145.4"/>
<use href="#dm" x="486.4" y="147.4"/>
<use href="#dm" x="487.1" y="149.4"/>
<use href="#dm" x="488.9" y="150.9"/>
<use href="#dm" x="489.6" y="152.9"/>
<use href="#dm" x="490.9" y="154.9"/>
<use href="#dm" x="491.5" y="157.2"/>
<use href="#dm" x="493.5" y="158.0"/>
<use href="#dm" x="495.8" y="159.6"/>
<use href="#dm" x="495.9" y="161.6"/>
<use href="#dm" x="496.4" y="163.6"/>
<use href="#dm" x="497.8" y="165.5"/>
<use href="#dm" x="500.2" y="166.5"/>
<use href="#dm" x="443.9" y="82.2"/>
<use href="#dm" x="445.5" y="83.7"/>
<use href="#dm" x="446.9" y="85.0"/>
<use href="#dm" x="447.6" y="86.6"/>
<use href="#dm" x="448.9" y="87.9"/>
<use href="#dm" x="450.1" y="89.3"/>
<use href="#dm" x="451.8" y="90.9"/>
<use href="#dm" x="452.4" y="92.4"/>
<use href="#dm" x="454.1" y="93.3"/>
<use href="#dm" x="454.6" y="95.6"/>
<use href="#dm" x="455.4" y="97.3"/>
<use href="#dm" x="456.5" y="98.9"/>
<use href="#dm" x="457.4" y="100.2"/>
<use href="#dm" x="457.5" y="102.4"/>
<use href="#dm" x="458.8" y="103.7"/>
<use href="#dm" x="459.7" y="105.6"/>
<use href="#dm" x="460.1" y="107.1"/>
<use href="#dm" x="461.0" y="109.1"/>
<use href="#dm" x="462.7" y="110.4"/>
<use href="#dm" x="463.1" y="112.1"/>
<use href="#dm" x="463.5" y="114.3"/>
<use href="#dm" x="465.0" y="115.5"/>
<use href="#dm" x="466.0" y="117.5"/>
<use href="#dm" x="466.5" y="119.1"/>
<use href="#dm" x="467.3" y="120.7"/>
<use href="#dm" x="466.2" y="122.7"/>
<use href="#dm" x="468.7" y="124.1"/>
<use href="#dm" x="469.3" y="125.7"/>
<use href="#dm" x="469.2" y="128.1"/>
<use href="#dm" x="472.2" y="128.7"/>
<use href="#dm" x="473.2" y="130.3"/>
<use href="#dm" x="473.4" y="132.2"/>
<use href="#dm" x="473.1" y="134.4"/>
<use href="#dm" x="475.2" y="135.2"/>
<use href="#dm" x="474.6" y="138.0"/>
<use href="#dm" x="476.4" y="139.3"/>
<use href="#dm" x="476.4" y="141.3"/>
<use href="#dm" x="478.6" y="142.1"/>
<use href="#dm" x="477.8" y="144.8"/>
<use href="#dm" x="478.4" y="145.9"/>
<use href="#dm" x="480.0" y="147.9"/>
<use href="#dm" x="479.5" y="150.0"/>
<use href="#dm" x="482.0" y="150.9"/>
<use href="#dm" x="482.2" y="152.9"/>
<use href="#dm" x="483.0" y="154.5"/>
<use href="#dm" x="484.4" y="155.9"/>
<use href="#dm" x="485.4" y="157.4"/>
<use href="#dm" x="487.5" y="158.8"/>
<use href="#dm" x="487.3" y="160.7"/>
<use href="#dm" x="488.5" y="162.5"/>
<use href="#dm" x="490.0" y="163.5"/>
<use href="#dm" x="490.3" y="165.7"/>
<use href="#dm" x="491.5" y="166.6"/>
<use href="#dm" x="492.1" y="169.1"/>
<path d="M443.33,80.52 L444.05,81.35 L444.76,82.17 L445.46,83.00 L446.14,83.79 L446.78,84.53 L447.42,85.27 L448.07,86.06 L448.77,86.96 L449.54,88.00 L450.40,89.22 L451.36,90.59 L452.36,92.05 L453.36,93.57 L454.32,95.10 L455.20,96.60 L455.99,98.07 L456.71,99.56 L457.40,101.06 L458.07,102.57 L458.75,104.08 L459.47,105.60 L460.25,107.13 L461.06,108.67 L461.89,110.22 L462.70,111.76 L463.50,113.29 L464.25,114.80 L464.93,116.28 L465.56,117.73 L466.17,119.17 L466.78,120.61 L467.42,122.05 L468.12,123.50 L468.90,124.96 L469.74,126.43 L470.62,127.90 L471.49,129.37 L472.32,130.84 L473.08,132.30 L473.75,133.76 L474.35,135.21 L474.90,136.66 L475.45,138.11 L476.02,139.56 L476.66,141.00 L477.34,142.44 L478.06,143.87 L478.80,145.30 L479.56,146.73 L480.33,148.16 L481.12,149.60 L481.93,151.05 L482.76,152.50 L483.60,153.95 L484.45,155.40 L485.32,156.85 L486.19,158.30 L487.13,159.82 L488.15,161.43 L489.18,163.04 L490.15,164.55 L491.00,165.87 L491.67,166.90 L492.11,167.60 L492.40,168.04 L492.56,168.29 L492.64,168.41 L492.68,168.49 L492.74,168.60" fill="none" stroke="#222" stroke-width="1.3" stroke-linejoin="round" stroke-linecap="round"/>
<path d="M445.40,80.52 L446.20,81.35 L446.99,82.17 L447.78,83.00 L448.54,83.79 L449.26,84.53 L449.98,85.27 L450.71,86.06 L451.49,86.96 L452.34,88.00 L453.29,89.22 L454.33,90.59 L455.41,92.05 L456.49,93.57 L457.54,95.10 L458.50,96.60 L459.37,98.07 L460.17,99.56 L460.94,101.06 L461.69,102.57 L462.45,104.08 L463.26,105.60 L464.12,107.13 L465.01,108.67 L465.92,110.22 L466.81,111.76 L467.69,113.29 L468.52,114.80 L469.29,116.28 L470.00,117.73 L470.69,119.17 L471.38,120.61 L472.10,122.05 L472.88,123.50 L473.74,124.96 L474.67,126.43 L475.63,127.90 L476.58,129.37 L477.50,130.84 L478.34,132.30 L479.09,133.76 L479.76,135.21 L480.40,136.66 L481.03,138.11 L481.69,139.56 L482.40,141.00 L483.17,142.44 L483.96,143.87 L484.79,145.30 L485.63,146.73 L486.49,148.16 L487.36,149.60 L488.25,151.05 L489.15,152.50 L490.08,153.95 L491.01,155.40 L491.96,156.85 L492.92,158.30 L493.94,159.82 L495.04,161.43 L496.15,163.04 L497.20,164.55 L498.14,165.87 L498.88,166.90 L499.41,167.60 L499.77,168.04 L500.02,168.29 L500.18,168.41 L500.31,168.49 L500.44,168.60" fill="none" stroke="#444" stroke-width="1.0" stroke-linejoin="round" stroke-linecap="round"/>
<use href="#dn" x="314.3" y="160.3"/>
<use href="#dn" x="315.1" y="159.7"/>
<use href="#dn" x="315.2" y="158.5"/>
<use href="#dn" x="316.1" y="157.9"/>
<use href="#dn" x="316.8" y="156.9"/>
<use href="#dn" x="317.6" y="156.2"/>
<use href="#dn" x="318.5" y="155.7"/>
<use href="#dn" x="320.0" y="156.3"/>
<use href="#dn" x="320.3" y="154.8"/>
<use href="#dn" x="321.2" y="155.0"/>
<use href="#dn" x="322.3" y="154.2"/>
<use href="#dn" x="323.3" y="154.0"/>
<use href="#dn" x="324.4" y="154.7"/>
<use href="#dn" x="325.1" y="155.1"/>
<use href="#dn" x="326.2" y="155.0"/>
<use href="#dn" x="327.0" y="155.5"/>
<use href="#dn" x="327.6" y="156.0"/>
<use href="#dn" x="328.7" y="156.7"/>
<use href="#dn" x="329.7" y="157.0"/>
<use href="#dn" x="330.0" y="158.3"/>
<use href="#dn" x="330.4" y="159.5"/>
<use href="#dn" x="331.7" y="158.6"/>
<use href="#dn" x="333.6" y="158.7"/>
<use href="#dn" x="333.1" y="156.8"/>
<use href="#dn" x="334.8" y="157.5"/>
<use href="#dn" x="335.3" y="157.0"/>
<use href="#dn" x="336.3" y="156.0"/>
<use href="#dn" x="336.5" y="155.0"/>
<use href="#dn" x="337.3" y="154.4"/>
<use href="#dn" x="337.7" y="153.4"/>
<use href="#dn" x="337.0" y="151.8"/>
<use href="#dn" x="338.7" y="151.5"/>
<use href="#dn" x="338.6" y="150.4"/>
<use href="#dn" x="339.8" y="149.9"/>
<use href="#dn" x="340.6" y="148.8"/>
<use href="#dn" x="339.7" y="148.0"/>
<use href="#dn" x="341.3" y="147.0"/>
<use href="#dn" x="341.7" y="146.2"/>
<use href="#dn" x="341.2" y="145.2"/>
<use href="#dn" x="342.4" y="144.6"/>
<use href="#dn" x="341.4" y="143.1"/>
<use href="#dn" x="344.2" y="142.7"/>
<use href="#dn" x="342.8" y="141.5"/>
<use href="#dn" x="343.6" y="140.8"/>
<use href="#dn" x="344.6" y="140.0"/>
<use href="#dn" x="343.8" y="138.3"/>
<use href="#dn" x="344.4" y="137.7"/>
<use href="#dn" x="345.0" y="137.0"/>
<use href="#dn" x="345.6" y="136.2"/>
<use href="#dn" x="344.8" y="135.0"/>
<use href="#dn" x="345.6" y="134.0"/>
<use href="#dn" x="346.7" y="133.2"/>
<use href="#dn" x="347.4" y="132.4"/>
<use href="#dn" x="347.0" y="131.3"/>
<use href="#dn" x="346.8" y="130.1"/>
<use href="#dn" x="348.6" y="129.6"/>
<use href="#dn" x="348.7" y="128.7"/>
<use href="#dn" x="349.6" y="128.0"/>
<use href="#dn" x="350.0" y="126.9"/>
<use href="#dn" x="350.2" y="125.8"/>
<use href="#dn" x="350.1" y="125.0"/>
<use href="#dn" x="350.3" y="124.1"/>
<use href="#dn" x="352.1" y="123.3"/>
<use href="#dn" x="351.6" y="122.2"/>
<use href="#dn" x="352.6" y="121.5"/>
<use href="#dn" x="352.9" y="120.9"/>
<use href="#dn" x="352.5" y="119.4"/>
<use href="#dn" x="354.0" y="119.0"/>
<use href="#dn" x="353.2" y="117.6"/>
<use href="#dn" x="353.7" y="116.8"/>
<use href="#dn" x="355.2" y="116.4"/>
<use href="#dn" x="355.1" y="114.7"/>
<use href="#dn" x="356.0" y="114.4"/>
<use href="#dn" x="355.6" y="113.0"/>
<use href="#dn" x="357.1" y="112.7"/>
<use href="#dn" x="357.4" y="111.8"/>
<use href="#dn" x="357.5" y="110.7"/>
<use href="#dn" x="358.0" y="109.6"/>
<use href="#dn" x="357.5" y="108.4"/>
<use href="#dn" x="358.7" y="108.1"/>
<use href="#dn" x="359.0" y="106.9"/>
<use href="#dn" x="360.6" y="106.6"/>
<use href="#dn" x="360.1" y="105.6"/>
<use href="#dn" x="361.5" y="105.0"/>
<use href="#dn" x="361.0" y="103.7"/>
<use href="#dn" x="361.5" y="102.9"/>
<use href="#dn" x="362.2" y="101.8"/>
<use href="#dn" x="362.6" y="101.0"/>
<use href="#dn" x="362.8" y="99.7"/>
<use href="#dn" x="363.2" y="99.3"/>
<use href="#dn" x="364.0" y="98.5"/>
<use href="#dn" x="364.2" y="97.3"/>
<use href="#dn" x="365.2" y="97.0"/>
<use href="#dn" x="365.8" y="95.6"/>
<use href="#dn" x="366.5" y="95.2"/>
<use href="#dn" x="366.8" y="94.2"/>
<use href="#dn" x="367.3" y="93.2"/>
<use href="#dn" x="367.6" y="92.8"/>
<use href="#dn" x="368.3" y="91.7"/>
<use href="#dn" x="369.2" y="91.1"/>
<use href="#dn" x="369.8" y="89.7"/>
<use href="#dn" x="369.5" y="89.0"/>
<use href="#dn" x="369.8" y="88.2"/>
<use href="#dn" x="370.5" y="86.9"/>
<use href="#dn" x="371.4" y="86.8"/>
<use href="#dn" x="372.0" y="85.4"/>
<use href="#dn" x="372.8" y="85.0"/>
<use href="#dn" x="374.2" y="84.5"/>
<use href="#dn" x="375.4" y="84.4"/>
<use href="#dn" x="375.3" y="83.1"/>
<use href="#dn" x="376.8" y="82.9"/>
<use href="#dn" x="376.6" y="81.5"/>
<use href="#dn" x="377.5" y="81.1"/>
<use href="#dn" x="377.8" y="80.2"/>
<use href="#dn" x="378.5" y="79.6"/>
<use href="#dn" x="380.2" y="79.5"/>
<use href="#dn" x="380.3" y="77.8"/>
<use href="#dn" x="381.3" y="78.4"/>
<use href="#dn" x="382.8" y="78.0"/>
<use href="#dn" x="383.4" y="77.8"/>
<use href="#dn" x="384.0" y="76.4"/>
<use href="#dn" x="384.7" y="75.8"/>
<use href="#dn" x="385.6" y="75.8"/>
<use href="#dn" x="385.9" y="74.2"/>
<use href="#dn" x="387.1" y="74.0"/>
<use href="#dn" x="388.4" y="74.1"/>
<use href="#dn" x="389.1" y="73.6"/>
<use href="#dn" x="390.2" y="73.0"/>
<use href="#dn" x="391.2" y="73.4"/>
<use href="#dn" x="392.3" y="72.6"/>
<use href="#dn" x="393.1" y="72.2"/>
<use href="#dn" x="394.1" y="73.1"/>
<use href="#dn" x="394.8" y="72.8"/>
<use href="#dn" x="396.0" y="73.1"/>
<use href="#dn" x="397.2" y="71.8"/>
<use href="#dn" x="398.3" y="72.3"/>
<use href="#dn" x="399.0" y="72.5"/>
<use href="#dn" x="399.9" y="73.1"/>
<use href="#dn" x="400.9" y="73.2"/>
<use href="#dn" x="401.9" y="73.6"/>
<use href="#dn" x="402.5" y="73.4"/>
<use href="#dn" x="403.9" y="74.2"/>
<use href="#dn" x="405.1" y="72.7"/>
<use href="#dn" x="406.1" y="74.2"/>
<use href="#dn" x="407.3" y="73.5"/>
<use href="#dn" x="408.3" y="74.2"/>
<use href="#dn" x="409.0" y="74.3"/>
<use href="#dn" x="409.7" y="74.3"/>
<use href="#dn" x="411.0" y="75.2"/>
<use href="#dn" x="412.0" y="75.5"/>
<use href="#dn" x="412.6" y="74.3"/>
<use href="#dn" x="413.7" y="74.2"/>
<use href="#dn" x="414.9" y="73.9"/>
<use href="#dn" x="415.8" y="74.5"/>
<use href="#dn" x="416.8" y="74.2"/>
<use href="#dn" x="418.0" y="74.1"/>
<use href="#dn" x="418.8" y="74.3"/>
<use href="#dn" x="419.8" y="72.7"/>
<use href="#dn" x="420.9" y="73.2"/>
<use href="#dn" x="421.4" y="72.1"/>
<use href="#dn" x="422.4" y="72.8"/>
<use href="#dn" x="423.7" y="72.2"/>
<use href="#dn" x="424.9" y="72.9"/>
<use href="#dn" x="425.3" y="71.8"/>
<use href="#dn" x="426.8" y="72.4"/>
<use href="#dn" x="427.4" y="72.2"/>
<use href="#dn" x="428.7" y="72.6"/>
<use href="#dn" x="429.5" y="72.5"/>
<use href="#dn" x="430.7" y="72.4"/>
<use href="#dn" x="431.3" y="72.0"/>
<use href="#dn" x="432.7" y="72.6"/>
<use href="#dn" x="433.7" y="72.5"/>
<use href="#dn" x="434.6" y="72.4"/>
<use href="#dn" x="435.7" y="72.8"/>
<use href="#dn" x="436.0" y="74.1"/>
<use href="#dn" x="436.9" y="74.9"/>
<use href="#dn" x="437.9" y="74.8"/>
<use href="#dn" x="438.2" y="75.8"/>
<use href="#dn" x="439.5" y="75.6"/>
<use href="#dn" x="440.3" y="76.8"/>
<use href="#dn" x="440.8" y="77.5"/>
<use href="#dn" x="441.8" y="77.9"/>
<use href="#dn" x="443.1" y="78.2"/>
<use href="#dn" x="443.2" y="79.0"/>
<use href="#dn" x="444.0" y="79.7"/>
<use href="#dn" x="444.3" y="81.2"/>
<use href="#dn" x="445.8" y="81.1"/>
<use href="#dn" x="445.4" y="82.5"/>
<use href="#dn" x="447.0" y="82.4"/>
<use href="#dn" x="447.5" y="83.6"/>
<use href="#dn" x="447.8" y="84.1"/>
<use href="#dn" x="448.3" y="85.1"/>
<use href="#dn" x="448.7" y="86.2"/>
<use href="#dn" x="450.0" y="86.4"/>
<path d="M314.27,160.35 L314.66,159.91 L315.10,159.43 L315.55,158.95 L316.00,158.50 L316.46,158.07 L316.95,157.63 L317.46,157.18 L317.97,156.75 L318.49,156.35 L319.00,156.00 L319.51,155.69 L320.02,155.41 L320.53,155.16 L321.04,154.94 L321.53,154.76 L322.00,154.60 L322.44,154.46 L322.85,154.34 L323.25,154.26 L323.65,154.21 L324.06,154.22 L324.50,154.30 L324.97,154.46 L325.44,154.69 L325.94,154.98 L326.44,155.30 L326.97,155.65 L327.50,156.00 L328.06,156.41 L328.65,156.89 L329.25,157.40 L329.85,157.87 L330.44,158.26 L331.00,158.50 L331.52,158.61 L332.02,158.64 L332.50,158.57 L332.98,158.42 L333.48,158.16 L334.00,157.80 L334.56,157.31 L335.15,156.70 L335.75,155.98" fill="none" stroke="#111" stroke-width="4.6" stroke-linejoin="round" stroke-linecap="round"/>
<use href="#dn" x="314.1" y="159.5"/>
<use href="#dn" x="315.8" y="160.2"/>
<use href="#dn" x="315.4" y="159.7"/>
<use href="#dn" x="315.6" y="158.0"/>
<use href="#dn" x="316.2" y="156.8"/>
<use href="#dn" x="316.7" y="156.6"/>
<use href="#dn" x="316.8" y="156.0"/>
<use href="#dn" x="319.7" y="156.4"/>
<use href="#dn" x="319.5" y="155.9"/>
<use href="#dn" x="319.1" y="152.2"/>
<use href="#dn" x="321.9" y="156.2"/>
<use href="#dn" x="323.0" y="155.5"/>
<use href="#dn" x="323.2" y="155.7"/>
<use href="#dn" x="324.2" y="155.5"/>
<use href="#dn" x="325.3" y="152.6"/>
<use href="#dn" x="326.4" y="153.3"/>
<use href="#dn" x="325.7" y="155.6"/>
<use href="#dn" x="328.9" y="154.0"/>
<use href="#dn" x="328.0" y="156.9"/>
<use href="#dn" x="329.9" y="155.8"/>
<use href="#dn" x="328.3" y="159.8"/>
<use href="#dn" x="330.2" y="157.8"/>
<use href="#dn" x="331.2" y="158.4"/>
<use href="#dn" x="331.6" y="159.9"/>
<use href="#dn" x="332.3" y="156.9"/>
<use href="#dn" x="333.3" y="157.6"/>
<use href="#dn" x="334.7" y="157.6"/>
<use href="#dn" x="335.6" y="158.2"/>
<use href="#dn" x="336.1" y="156.2"/>
<use href="#dn" x="314" y="164"/>
<use href="#dn" x="315.5" y="166.5"/>
<use href="#dn" x="317" y="163.5"/>
<use href="#dn" x="316" y="160.5"/>
<use href="#dn" x="318.5" y="167"/>
<use href="#dn" x="313" y="162.5"/>
<use href="#dn" x="319.5" y="164.5"/>
<line x1="119.50" y1="51.80" x2="119.50" y2="55.20" stroke="#222" stroke-width="1.0"/>
<line x1="118.60" y1="51.80" x2="120.40" y2="51.80" stroke="#222" stroke-width="1.0"/>
<line x1="118.60" y1="55.20" x2="120.40" y2="55.20" stroke="#222" stroke-width="1.0"/>
<line x1="310.80" y1="164.60" x2="310.80" y2="167.60" stroke="#222" stroke-width="1.0"/>
<line x1="309.90" y1="164.60" x2="311.70" y2="164.60" stroke="#222" stroke-width="1.0"/>
<line x1="309.90" y1="167.60" x2="311.70" y2="167.60" stroke="#222" stroke-width="1.0"/>
<line x1="50.30" y1="269.00" x2="50.30" y2="374.40" stroke="#4a4a4a" stroke-width="1.3"/>
<line x1="49.70" y1="374.40" x2="169.10" y2="374.40" stroke="#4a4a4a" stroke-width="1.3"/>
<line x1="109.60" y1="374.40" x2="109.60" y2="377.40" stroke="#4a4a4a" stroke-width="1.1"/>
<line x1="168.50" y1="374.40" x2="168.50" y2="377.40" stroke="#4a4a4a" stroke-width="1.1"/>
<line x1="47.30" y1="374.40" x2="50.30" y2="374.40" stroke="#4a4a4a" stroke-width="1.0"/>
<line x1="48.30" y1="370.90" x2="50.30" y2="370.90" stroke="#4a4a4a" stroke-width="0.9"/>
<line x1="48.30" y1="367.41" x2="50.30" y2="367.41" stroke="#4a4a4a" stroke-width="0.9"/>
<line x1="48.30" y1="363.91" x2="50.30" y2="363.91" stroke="#4a4a4a" stroke-width="0.9"/>
<line x1="48.30" y1="360.41" x2="50.30" y2="360.41" stroke="#4a4a4a" stroke-width="0.9"/>
<line x1="47.30" y1="356.92" x2="50.30" y2="356.92" stroke="#4a4a4a" stroke-width="1.0"/>
<line x1="48.30" y1="353.42" x2="50.30" y2="353.42" stroke="#4a4a4a" stroke-width="0.9"/>
<line x1="48.30" y1="349.92" x2="50.30" y2="349.92" stroke="#4a4a4a" stroke-width="0.9"/>
<line x1="48.30" y1="346.43" x2="50.30" y2="346.43" stroke="#4a4a4a" stroke-width="0.9"/>
<line x1="48.30" y1="342.93" x2="50.30" y2="342.93" stroke="#4a4a4a" stroke-width="0.9"/>
<line x1="47.30" y1="339.43" x2="50.30" y2="339.43" stroke="#4a4a4a" stroke-width="1.0"/>
<line x1="48.30" y1="335.94" x2="50.30" y2="335.94" stroke="#4a4a4a" stroke-width="0.9"/>
<line x1="48.30" y1="332.44" x2="50.30" y2="332.44" stroke="#4a4a4a" stroke-width="0.9"/>
<line x1="48.30" y1="328.94" x2="50.30" y2="328.94" stroke="#4a4a4a" stroke-width="0.9"/>
<line x1="48.30" y1="325.45" x2="50.30" y2="325.45" stroke="#4a4a4a" stroke-width="0.9"/>
<line x1="47.30" y1="321.95" x2="50.30" y2="321.95" stroke="#4a4a4a" stroke-width="1.0"/>
<line x1="48.30" y1="318.45" x2="50.30" y2="318.45" stroke="#4a4a4a" stroke-width="0.9"/>
<line x1="48.30" y1="314.96" x2="50.30" y2="314.96" stroke="#4a4a4a" stroke-width="0.9"/>
<line x1="48.30" y1="311.46" x2="50.30" y2="311.46" stroke="#4a4a4a" stroke-width="0.9"/>
<line x1="48.30" y1="307.96" x2="50.30" y2="307.96" stroke="#4a4a4a" stroke-width="0.9"/>
<line x1="47.30" y1="304.47" x2="50.30" y2="304.47" stroke="#4a4a4a" stroke-width="1.0"/>
<line x1="48.30" y1="300.97" x2="50.30" y2="300.97" stroke="#4a4a4a" stroke-width="0.9"/>
<line x1="48.30" y1="297.47" x2="50.30" y2="297.47" stroke="#4a4a4a" stroke-width="0.9"/>
<line x1="48.30" y1="293.98" x2="50.30" y2="293.98" stroke="#4a4a4a" stroke-width="0.9"/>
<line x1="48.30" y1="290.48" x2="50.30" y2="290.48" stroke="#4a4a4a" stroke-width="0.9"/>
<line x1="47.30" y1="286.98" x2="50.30" y2="286.98" stroke="#4a4a4a" stroke-width="1.0"/>
<line x1="48.30" y1="283.49" x2="50.30" y2="283.49" stroke="#4a4a4a" stroke-width="0.9"/>
<line x1="48.30" y1="279.99" x2="50.30" y2="279.99" stroke="#4a4a4a" stroke-width="0.9"/>
<line x1="48.30" y1="276.49" x2="50.30" y2="276.49" stroke="#4a4a4a" stroke-width="0.9"/>
<line x1="48.30" y1="273.00" x2="50.30" y2="273.00" stroke="#4a4a4a" stroke-width="0.9"/>
<line x1="47.30" y1="269.50" x2="50.30" y2="269.50" stroke="#4a4a4a" stroke-width="1.0"/>
<text x="35.77" y="379.16" font-size="11.6" fill="#111" stroke="#111" stroke-width="0.18">0</text>
<text x="26.20" y="361.68" font-size="11.6" fill="#111" stroke="#111" stroke-width="0.18">0.1</text>
<text x="26.26" y="344.19" font-size="11.6" fill="#111" stroke="#111" stroke-width="0.18">0.2</text>
<text x="26.14" y="326.71" font-size="11.6" fill="#111" stroke="#111" stroke-width="0.18">0.3</text>
<text x="26.02" y="309.23" font-size="11.6" fill="#111" stroke="#111" stroke-width="0.18">0.4</text>
<text x="26.14" y="291.74" font-size="11.6" fill="#111" stroke="#111" stroke-width="0.18">0.5</text>
<text x="26.14" y="274.26" font-size="11.6" fill="#111" stroke="#111" stroke-width="0.18">0.6</text>
<rect x="68.20" y="290.30" width="23.60" height="84.10" fill="#fff" stroke="#4a4a4a" stroke-width="1.3"/>
<rect x="127.60" y="304.20" width="23.70" height="70.20" fill="#d3d3d3" stroke="#4a4a4a" stroke-width="1.3"/>
<line x1="80.00" y1="286.00" x2="80.00" y2="294.80" stroke="#222" stroke-width="1.0"/>
<line x1="78.20" y1="286.00" x2="81.80" y2="286.00" stroke="#222" stroke-width="1.0"/>
<line x1="78.20" y1="294.80" x2="81.80" y2="294.80" stroke="#222" stroke-width="1.0"/>
<line x1="139.40" y1="301.40" x2="139.40" y2="306.30" stroke="#222" stroke-width="1.0"/>
<line x1="137.60" y1="301.40" x2="141.20" y2="301.40" stroke="#222" stroke-width="1.0"/>
<line x1="137.60" y1="306.30" x2="141.20" y2="306.30" stroke="#222" stroke-width="1.0"/>
<path d="M84.50,278.00 L84.50,274.90 L137.80,274.90 L137.80,278.00" fill="none" stroke="#111" stroke-width="1.9" stroke-linejoin="round" stroke-linecap="round" stroke-linecap="butt" stroke-linejoin="miter"/>
<text x="21.08" y="244.00" font-size="15.51" fill="#000" stroke="#000" stroke-width="0.18" textLength="44.49" lengthAdjust="spacingAndGlyphs">DI Max</text>
<text transform="translate(18.45,374.52) rotate(-90)" x="0" y="0" font-size="14.76" fill="#000" stroke="#000" stroke-width="0.18" textLength="119.75" lengthAdjust="spacingAndGlyphs">Deformability Index</text>
<line x1="228.80" y1="259.90" x2="228.80" y2="373.60" stroke="#4a4a4a" stroke-width="1.3"/>
<line x1="228.20" y1="373.60" x2="340.90" y2="373.60" stroke="#4a4a4a" stroke-width="1.3"/>
<line x1="285.30" y1="373.60" x2="285.30" y2="376.60" stroke="#4a4a4a" stroke-width="1.1"/>
<line x1="340.30" y1="373.60" x2="340.30" y2="376.60" stroke="#4a4a4a" stroke-width="1.1"/>
<line x1="225.80" y1="373.60" x2="228.80" y2="373.60" stroke="#4a4a4a" stroke-width="1.0"/>
<line x1="226.80" y1="367.94" x2="228.80" y2="367.94" stroke="#4a4a4a" stroke-width="0.9"/>
<line x1="226.80" y1="362.28" x2="228.80" y2="362.28" stroke="#4a4a4a" stroke-width="0.9"/>
<line x1="226.80" y1="356.62" x2="228.80" y2="356.62" stroke="#4a4a4a" stroke-width="0.9"/>
<line x1="226.80" y1="350.96" x2="228.80" y2="350.96" stroke="#4a4a4a" stroke-width="0.9"/>
<line x1="225.80" y1="345.30" x2="228.80" y2="345.30" stroke="#4a4a4a" stroke-width="1.0"/>
<line x1="226.80" y1="339.64" x2="228.80" y2="339.64" stroke="#4a4a4a" stroke-width="0.9"/>
<line x1="226.80" y1="333.98" x2="228.80" y2="333.98" stroke="#4a4a4a" stroke-width="0.9"/>
<line x1="226.80" y1="328.32" x2="228.80" y2="328.32" stroke="#4a4a4a" stroke-width="0.9"/>
<line x1="226.80" y1="322.66" x2="228.80" y2="322.66" stroke="#4a4a4a" stroke-width="0.9"/>
<line x1="225.80" y1="317.00" x2="228.80" y2="317.00" stroke="#4a4a4a" stroke-width="1.0"/>
<line x1="226.80" y1="311.34" x2="228.80" y2="311.34" stroke="#4a4a4a" stroke-width="0.9"/>
<line x1="226.80" y1="305.68" x2="228.80" y2="305.68" stroke="#4a4a4a" stroke-width="0.9"/>
<line x1="226.80" y1="300.02" x2="228.80" y2="300.02" stroke="#4a4a4a" stroke-width="0.9"/>
<line x1="226.80" y1="294.36" x2="228.80" y2="294.36" stroke="#4a4a4a" stroke-width="0.9"/>
<line x1="225.80" y1="288.70" x2="228.80" y2="288.70" stroke="#4a4a4a" stroke-width="1.0"/>
<line x1="226.80" y1="283.04" x2="228.80" y2="283.04" stroke="#4a4a4a" stroke-width="0.9"/>
<line x1="226.80" y1="277.38" x2="228.80" y2="277.38" stroke="#4a4a4a" stroke-width="0.9"/>
<line x1="226.80" y1="271.72" x2="228.80" y2="271.72" stroke="#4a4a4a" stroke-width="0.9"/>
<line x1="226.80" y1="266.06" x2="228.80" y2="266.06" stroke="#4a4a4a" stroke-width="0.9"/>
<line x1="225.80" y1="260.40" x2="228.80" y2="260.40" stroke="#4a4a4a" stroke-width="1.0"/>
<text x="213.86" y="377.77" font-size="12.2" fill="#111" stroke="#111" stroke-width="0.18">0</text>
<text x="207.08" y="349.47" font-size="12.2" fill="#111" stroke="#111" stroke-width="0.18">50</text>
<text x="200.31" y="321.17" font-size="12.2" fill="#111" stroke="#111" stroke-width="0.18">100</text>
<text x="200.31" y="292.87" font-size="12.2" fill="#111" stroke="#111" stroke-width="0.18">150</text>
<text x="200.31" y="264.57" font-size="12.2" fill="#111" stroke="#111" stroke-width="0.18">200</text>
<rect x="245.40" y="281.70" width="23.10" height="91.90" fill="#fff" stroke="#4a4a4a" stroke-width="1.3"/>
<rect x="301.50" y="277.10" width="22.90" height="96.50" fill="#d3d3d3" stroke="#4a4a4a" stroke-width="1.3"/>
<line x1="256.90" y1="279.10" x2="256.90" y2="284.30" stroke="#222" stroke-width="1.0"/>
<line x1="255.10" y1="279.10" x2="258.70" y2="279.10" stroke="#222" stroke-width="1.0"/>
<line x1="255.10" y1="284.30" x2="258.70" y2="284.30" stroke="#222" stroke-width="1.0"/>
<line x1="313.20" y1="274.60" x2="313.20" y2="280.00" stroke="#222" stroke-width="1.0"/>
<line x1="311.40" y1="274.60" x2="315.00" y2="274.60" stroke="#222" stroke-width="1.0"/>
<line x1="311.40" y1="280.00" x2="315.00" y2="280.00" stroke="#222" stroke-width="1.0"/>
<path d="M257.90,268.20 L257.90,265.20 L311.00,265.20 L311.00,268.20" fill="none" stroke="#111" stroke-width="1.9" stroke-linejoin="round" stroke-linecap="round" stroke-linecap="butt" stroke-linejoin="miter"/>
<text x="198.26" y="243.20" font-size="14.07" fill="#000" stroke="#000" stroke-width="0.18" textLength="37.68" lengthAdjust="spacingAndGlyphs">O Min</text>
<text transform="translate(189.11,368.04) rotate(-90)" x="0" y="0" font-size="14.97" fill="#000" stroke="#000" stroke-width="0.18" textLength="109.02" lengthAdjust="spacingAndGlyphs">Osmolality (mOs)</text>
<line x1="395.70" y1="268.90" x2="395.70" y2="373.00" stroke="#4a4a4a" stroke-width="1.3"/>
<line x1="395.10" y1="373.00" x2="511.90" y2="373.00" stroke="#4a4a4a" stroke-width="1.3"/>
<line x1="453.50" y1="373.00" x2="453.50" y2="376.00" stroke="#4a4a4a" stroke-width="1.1"/>
<line x1="511.30" y1="373.00" x2="511.30" y2="376.00" stroke="#4a4a4a" stroke-width="1.1"/>
<line x1="392.70" y1="373.00" x2="395.70" y2="373.00" stroke="#4a4a4a" stroke-width="1.0"/>
<line x1="393.70" y1="369.55" x2="395.70" y2="369.55" stroke="#4a4a4a" stroke-width="0.9"/>
<line x1="393.70" y1="366.09" x2="395.70" y2="366.09" stroke="#4a4a4a" stroke-width="0.9"/>
<line x1="393.70" y1="362.64" x2="395.70" y2="362.64" stroke="#4a4a4a" stroke-width="0.9"/>
<line x1="393.70" y1="359.19" x2="395.70" y2="359.19" stroke="#4a4a4a" stroke-width="0.9"/>
<line x1="392.70" y1="355.73" x2="395.70" y2="355.73" stroke="#4a4a4a" stroke-width="1.0"/>
<line x1="393.70" y1="352.28" x2="395.70" y2="352.28" stroke="#4a4a4a" stroke-width="0.9"/>
<line x1="393.70" y1="348.83" x2="395.70" y2="348.83" stroke="#4a4a4a" stroke-width="0.9"/>
<line x1="393.70" y1="345.37" x2="395.70" y2="345.37" stroke="#4a4a4a" stroke-width="0.9"/>
<line x1="393.70" y1="341.92" x2="395.70" y2="341.92" stroke="#4a4a4a" stroke-width="0.9"/>
<line x1="392.70" y1="338.47" x2="395.70" y2="338.47" stroke="#4a4a4a" stroke-width="1.0"/>
<line x1="393.70" y1="335.01" x2="395.70" y2="335.01" stroke="#4a4a4a" stroke-width="0.9"/>
<line x1="393.70" y1="331.56" x2="395.70" y2="331.56" stroke="#4a4a4a" stroke-width="0.9"/>
<line x1="393.70" y1="328.11" x2="395.70" y2="328.11" stroke="#4a4a4a" stroke-width="0.9"/>
<line x1="393.70" y1="324.65" x2="395.70" y2="324.65" stroke="#4a4a4a" stroke-width="0.9"/>
<line x1="392.70" y1="321.20" x2="395.70" y2="321.20" stroke="#4a4a4a" stroke-width="1.0"/>
<line x1="393.70" y1="317.75" x2="395.70" y2="317.75" stroke="#4a4a4a" stroke-width="0.9"/>
<line x1="393.70" y1="314.29" x2="395.70" y2="314.29" stroke="#4a4a4a" stroke-width="0.9"/>
<line x1="393.70" y1="310.84" x2="395.70" y2="310.84" stroke="#4a4a4a" stroke-width="0.9"/>
<line x1="393.70" y1="307.39" x2="395.70" y2="307.39" stroke="#4a4a4a" stroke-width="0.9"/>
<line x1="392.70" y1="303.93" x2="395.70" y2="303.93" stroke="#4a4a4a" stroke-width="1.0"/>
<line x1="393.70" y1="300.48" x2="395.70" y2="300.48" stroke="#4a4a4a" stroke-width="0.9"/>
<line x1="393.70" y1="297.03" x2="395.70" y2="297.03" stroke="#4a4a4a" stroke-width="0.9"/>
<line x1="393.70" y1="293.57" x2="395.70" y2="293.57" stroke="#4a4a4a" stroke-width="0.9"/>
<line x1="393.70" y1="290.12" x2="395.70" y2="290.12" stroke="#4a4a4a" stroke-width="0.9"/>
<line x1="392.70" y1="286.67" x2="395.70" y2="286.67" stroke="#4a4a4a" stroke-width="1.0"/>
<line x1="393.70" y1="283.21" x2="395.70" y2="283.21" stroke="#4a4a4a" stroke-width="0.9"/>
<line x1="393.70" y1="279.76" x2="395.70" y2="279.76" stroke="#4a4a4a" stroke-width="0.9"/>
<line x1="393.70" y1="276.31" x2="395.70" y2="276.31" stroke="#4a4a4a" stroke-width="0.9"/>
<line x1="393.70" y1="272.85" x2="395.70" y2="272.85" stroke="#4a4a4a" stroke-width="0.9"/>
<line x1="392.70" y1="269.40" x2="395.70" y2="269.40" stroke="#4a4a4a" stroke-width="1.0"/>
<text x="381.48" y="376.75" font-size="11.0" fill="#111" stroke="#111" stroke-width="0.18">0</text>
<text x="369.27" y="359.48" font-size="11.0" fill="#111" stroke="#111" stroke-width="0.18">100</text>
<text x="369.27" y="342.22" font-size="11.0" fill="#111" stroke="#111" stroke-width="0.18">200</text>
<text x="369.27" y="324.95" font-size="11.0" fill="#111" stroke="#111" stroke-width="0.18">300</text>
<text x="369.27" y="307.68" font-size="11.0" fill="#111" stroke="#111" stroke-width="0.18">400</text>
<text x="369.27" y="290.42" font-size="11.0" fill="#111" stroke="#111" stroke-width="0.18">500</text>
<text x="369.27" y="273.15" font-size="11.0" fill="#111" stroke="#111" stroke-width="0.18">600</text>
<rect x="413.20" y="291.40" width="23.30" height="81.60" fill="#fff" stroke="#4a4a4a" stroke-width="1.3"/>
<rect x="471.30" y="289.20" width="23.20" height="83.80" fill="#d3d3d3" stroke="#4a4a4a" stroke-width="1.3"/>
<line x1="424.70" y1="288.80" x2="424.70" y2="293.70" stroke="#222" stroke-width="1.0"/>
<line x1="422.90" y1="288.80" x2="426.50" y2="288.80" stroke="#222" stroke-width="1.0"/>
<line x1="422.90" y1="293.70" x2="426.50" y2="293.70" stroke="#222" stroke-width="1.0"/>
<line x1="482.90" y1="286.40" x2="482.90" y2="291.80" stroke="#222" stroke-width="1.0"/>
<line x1="481.10" y1="286.40" x2="484.70" y2="286.40" stroke="#222" stroke-width="1.0"/>
<line x1="481.10" y1="291.80" x2="484.70" y2="291.80" stroke="#222" stroke-width="1.0"/>
<path d="M429.00,274.80 L429.00,271.80 L482.10,271.80 L482.10,274.80" fill="none" stroke="#111" stroke-width="1.9" stroke-linejoin="round" stroke-linecap="round" stroke-linecap="butt" stroke-linejoin="miter"/>
<text x="374.47" y="244.60" font-size="15.29" fill="#000" stroke="#000" stroke-width="0.18" textLength="39.47" lengthAdjust="spacingAndGlyphs">O Hyp</text>
<text transform="translate(363.97,371.63) rotate(-90)" x="0" y="0" font-size="14.65" fill="#000" stroke="#000" stroke-width="0.18" textLength="108.31" lengthAdjust="spacingAndGlyphs">Osmolality (mOs)</text>
<text x="24.65" y="391.20" font-size="14.0" font-style="italic" fill="#000" stroke="#000" stroke-width="0.18" textLength="43.16" lengthAdjust="spacingAndGlyphs">Tmod1</text>
<text x="73.58" y="391.40" font-size="14.0" font-style="italic" fill="#000" stroke="#000" stroke-width="0.18" textLength="20.42" lengthAdjust="spacingAndGlyphs">+/+</text>
<text x="137.31" y="393.20" font-size="14.0" font-style="italic" fill="#000" stroke="#000" stroke-width="0.18" textLength="13.02" lengthAdjust="spacingAndGlyphs">-/-</text>
<text x="188.49" y="390.80" font-size="14.0" font-style="italic" fill="#000" stroke="#000" stroke-width="0.18" textLength="41.89" lengthAdjust="spacingAndGlyphs">Tmod1</text>
<text x="245.87" y="390.90" font-size="14.0" font-style="italic" fill="#000" stroke="#000" stroke-width="0.18" textLength="20.75" lengthAdjust="spacingAndGlyphs">+/+</text>
<text x="304.41" y="391.20" font-size="14.0" font-style="italic" fill="#000" stroke="#000" stroke-width="0.18" textLength="13.02" lengthAdjust="spacingAndGlyphs">-/-</text>
<text x="365.16" y="388.80" font-size="14.0" font-style="italic" fill="#000" stroke="#000" stroke-width="0.18" textLength="43.05" lengthAdjust="spacingAndGlyphs">Tmod1</text>
<text x="414.27" y="388.70" font-size="14.0" font-style="italic" fill="#000" stroke="#000" stroke-width="0.18" textLength="20.64" lengthAdjust="spacingAndGlyphs">+/+</text>
<text x="476.42" y="391.10" font-size="14.0" font-style="italic" fill="#000" stroke="#000" stroke-width="0.18" textLength="12.91" lengthAdjust="spacingAndGlyphs">-/-</text>
<text x="375.77" y="635.30" font-size="14.0" font-style="italic" fill="#000" stroke="#000" stroke-width="0.18" textLength="42.42" lengthAdjust="spacingAndGlyphs">Tmod1</text>
<text x="426.48" y="634.00" font-size="14.0" font-style="italic" fill="#000" stroke="#000" stroke-width="0.18" textLength="20.42" lengthAdjust="spacingAndGlyphs">+/+</text>
<text x="467.74" y="635.20" font-size="14.0" font-style="italic" fill="#000" stroke="#000" stroke-width="0.18" textLength="12.48" lengthAdjust="spacingAndGlyphs">-/-</text>
<text x="97.62" y="276.03" font-size="17.14" fill="#000" stroke="#000" stroke-width="0.18" textLength="7.13" lengthAdjust="spacingAndGlyphs">*</text>
<text x="107.12" y="276.03" font-size="17.14" fill="#000" stroke="#000" stroke-width="0.18" textLength="7.13" lengthAdjust="spacingAndGlyphs">*</text>
<text x="116.62" y="276.03" font-size="17.14" fill="#000" stroke="#000" stroke-width="0.18" textLength="7.13" lengthAdjust="spacingAndGlyphs">*</text>
<text x="272.84" y="266.13" font-size="17.43" fill="#000" stroke="#000" stroke-width="0.18" textLength="6.7" lengthAdjust="spacingAndGlyphs">*</text>
<text x="282.53" y="266.13" font-size="17.43" fill="#000" stroke="#000" stroke-width="0.18" textLength="6.92" lengthAdjust="spacingAndGlyphs">*</text>
<text x="449.52" y="272.43" font-size="16.86" fill="#000" stroke="#000" stroke-width="0.18" textLength="7.19" lengthAdjust="spacingAndGlyphs">*</text>
<text x="446.03" y="462.19" font-size="16.14" fill="#000" stroke="#000" stroke-width="0.18" textLength="6.92" lengthAdjust="spacingAndGlyphs">*</text>
<rect x="60.90" y="426.30" width="267.60" height="191.00" fill="none" stroke="#222" stroke-width="1.4"/>
<line x1="56.90" y1="617.30" x2="60.90" y2="617.30" stroke="#222" stroke-width="1.0"/>
<text x="27.76" y="622.50" font-size="12.8" fill="#111" stroke="#111" stroke-width="0.18" textLength="25.33" lengthAdjust="spacingAndGlyphs">0.0%</text>
<line x1="56.90" y1="582.60" x2="60.90" y2="582.60" stroke="#222" stroke-width="1.0"/>
<text x="21.85" y="587.80" font-size="12.8" fill="#111" stroke="#111" stroke-width="0.18" textLength="31.24" lengthAdjust="spacingAndGlyphs">20.0%</text>
<line x1="56.90" y1="547.90" x2="60.90" y2="547.90" stroke="#222" stroke-width="1.0"/>
<text x="22.18" y="553.10" font-size="12.8" fill="#111" stroke="#111" stroke-width="0.18" textLength="30.9" lengthAdjust="spacingAndGlyphs">40.0%</text>
<line x1="56.90" y1="513.20" x2="60.90" y2="513.20" stroke="#222" stroke-width="1.0"/>
<text x="21.85" y="518.40" font-size="12.8" fill="#111" stroke="#111" stroke-width="0.18" textLength="31.24" lengthAdjust="spacingAndGlyphs">60.0%</text>
<line x1="56.90" y1="478.50" x2="60.90" y2="478.50" stroke="#222" stroke-width="1.0"/>
<text x="21.91" y="483.70" font-size="12.8" fill="#111" stroke="#111" stroke-width="0.18" textLength="31.19" lengthAdjust="spacingAndGlyphs">80.0%</text>
<line x1="56.90" y1="443.80" x2="60.90" y2="443.80" stroke="#222" stroke-width="1.0"/>
<text x="15.98" y="449.00" font-size="12.8" fill="#111" stroke="#111" stroke-width="0.18" textLength="37.07" lengthAdjust="spacingAndGlyphs">100.0%</text>
<line x1="60.90" y1="617.30" x2="60.90" y2="621.30" stroke="#222" stroke-width="1.0"/>
<text x="51.91" y="641.00" font-size="12.0" fill="#111" stroke="#111" stroke-width="0.18" textLength="17.6" lengthAdjust="spacingAndGlyphs">100</text>
<line x1="96.65" y1="617.30" x2="96.65" y2="621.30" stroke="#222" stroke-width="1.0"/>
<text x="87.66" y="641.00" font-size="12.0" fill="#111" stroke="#111" stroke-width="0.18" textLength="17.6" lengthAdjust="spacingAndGlyphs">120</text>
<line x1="132.40" y1="617.30" x2="132.40" y2="621.30" stroke="#222" stroke-width="1.0"/>
<text x="123.41" y="641.00" font-size="12.0" fill="#111" stroke="#111" stroke-width="0.18" textLength="17.6" lengthAdjust="spacingAndGlyphs">140</text>
<line x1="168.15" y1="617.30" x2="168.15" y2="621.30" stroke="#222" stroke-width="1.0"/>
<text x="159.16" y="641.00" font-size="12.0" fill="#111" stroke="#111" stroke-width="0.18" textLength="17.6" lengthAdjust="spacingAndGlyphs">160</text>
<line x1="203.90" y1="617.30" x2="203.90" y2="621.30" stroke="#222" stroke-width="1.0"/>
<text x="194.91" y="641.00" font-size="12.0" fill="#111" stroke="#111" stroke-width="0.18" textLength="17.6" lengthAdjust="spacingAndGlyphs">180</text>
<line x1="239.65" y1="617.30" x2="239.65" y2="621.30" stroke="#222" stroke-width="1.0"/>
<text x="230.93" y="641.00" font-size="12.0" fill="#111" stroke="#111" stroke-width="0.18" textLength="17.32" lengthAdjust="spacingAndGlyphs">200</text>
<line x1="275.40" y1="617.30" x2="275.40" y2="621.30" stroke="#222" stroke-width="1.0"/>
<text x="266.68" y="641.00" font-size="12.0" fill="#111" stroke="#111" stroke-width="0.18" textLength="17.32" lengthAdjust="spacingAndGlyphs">220</text>
<line x1="311.15" y1="617.30" x2="311.15" y2="621.30" stroke="#222" stroke-width="1.0"/>
<text x="302.43" y="641.00" font-size="12.0" fill="#111" stroke="#111" stroke-width="0.18" textLength="17.32" lengthAdjust="spacingAndGlyphs">240</text>
<text x="111.47" y="657.20" font-size="15.17" fill="#000" stroke="#000" stroke-width="0.18" textLength="108.41" lengthAdjust="spacingAndGlyphs">Osmolality (mOs)</text>
<text transform="translate(13.21,584.93) rotate(-90)" x="0" y="0" font-size="14.01" fill="#000" stroke="#000" stroke-width="0.18" textLength="125.06" lengthAdjust="spacingAndGlyphs">Percent Cells Lysed</text>
<path d="M60.90,451.90 L120.30,454.20 L155.60,450.70 L155.94,451.22 L156.41,451.92 L156.98,452.79 L157.62,453.82 L158.30,455.00 L159.05,456.35 L159.88,457.87 L160.76,459.55 L161.64,461.36 L162.50,463.30 L163.33,465.38 L164.15,467.63 L164.96,469.99 L165.78,472.42 L166.60,474.90 L167.42,477.41 L168.24,479.98 L169.05,482.62 L169.87,485.33 L170.70,488.10 L171.52,490.94 L172.33,493.86 L173.16,496.84 L174.01,499.88 L174.90,503.00 L175.85,506.24 L176.85,509.60 L177.87,513.00 L178.89,516.36 L179.90,519.60 L180.86,522.67 L181.80,525.63 L182.74,528.54 L183.73,531.48 L184.80,534.50 L185.99,537.68 L187.27,540.98 L188.59,544.29 L189.92,547.50 L191.20,550.50 L192.44,553.27 L193.66,555.88 L194.87,558.36 L196.08,560.76 L197.30,563.10 L198.54,565.36 L199.78,567.51 L201.02,569.60 L202.26,571.68 L203.50,573.80 L204.72,576.00 L205.94,578.26 L207.16,580.50 L208.38,582.64 L209.60,584.60 L210.84,586.38 L212.08,588.01 L213.32,589.53 L214.56,590.96 L215.80,592.30 L217.05,593.57 L218.30,594.76 L219.55,595.86 L220.76,596.84 L221.90,597.70 L222.94,598.38 L223.90,598.89 L224.83,599.31 L225.78,599.72 L226.80,600.20 L227.91,600.76 L229.08,601.36 L230.28,601.96 L231.49,602.55 L232.70,603.10 L233.88,603.61 L235.05,604.10 L236.24,604.57 L237.47,605.00 L238.80,605.40 L240.21,605.75 L241.69,606.07 L243.23,606.35 L244.83,606.63 L246.50,606.90 L248.30,607.17 L250.22,607.43 L252.18,607.68 L254.07,607.94 L255.80,608.20 L257.17,608.49 L258.23,608.80 L259.31,609.11 L260.69,609.38 L262.70,609.60 L265.48,609.75 L268.81,609.85 L272.49,609.92 L276.30,609.96 L280.00,610.00 L283.69,610.03 L287.51,610.05 L291.33,610.06 L295.04,610.04 L298.50,610.00 L301.64,609.93 L304.54,609.83 L307.33,609.71 L310.11,609.60 L313.00,609.50 L316.27,609.42 L319.83,609.35 L323.31,609.29 L326.29,609.24 L328.40,609.20" fill="none" stroke="#000" stroke-width="2.2" stroke-linejoin="round" stroke-linecap="round"/>
<path d="M60.90,451.90 L120.30,454.20 L155.60,447.90 L156.14,448.24 L156.86,448.61 L157.75,449.20 L158.80,450.17 L160.00,451.70 L161.41,453.97 L163.04,456.86 L164.80,460.11 L166.58,463.44 L168.30,466.60 L169.94,469.56 L171.58,472.51 L173.22,475.46 L174.86,478.45 L176.50,481.50 L178.18,484.68 L179.90,487.96 L181.60,491.26 L183.25,494.47 L184.80,497.50 L186.21,500.25 L187.52,502.79 L188.76,505.25 L190.01,507.78 L191.30,510.50 L192.64,513.47 L194.01,516.58 L195.38,519.78 L196.75,523.01 L198.10,526.20 L199.46,529.43 L200.84,532.75 L202.19,536.04 L203.49,539.16 L204.70,542.00 L205.77,544.44 L206.72,546.56 L207.63,548.53 L208.56,550.55 L209.60,552.80 L210.76,555.32 L211.99,557.98 L213.26,560.72 L214.55,563.48 L215.80,566.20 L217.05,568.92 L218.30,571.69 L219.55,574.42 L220.76,577.05 L221.90,579.50 L222.94,581.73 L223.90,583.79 L224.83,585.73 L225.78,587.62 L226.80,589.50 L227.91,591.43 L229.08,593.36 L230.28,595.23 L231.49,596.97 L232.70,598.50 L233.88,599.80 L235.05,600.91 L236.24,601.88 L237.47,602.76 L238.80,603.60 L240.21,604.38 L241.69,605.06 L243.23,605.68 L244.83,606.25 L246.50,606.80 L248.30,607.31 L250.22,607.76 L252.18,608.18 L254.07,608.59 L255.80,609.00 L257.17,609.43 L258.23,609.86 L259.31,610.28 L260.69,610.67 L262.70,611.00 L265.48,611.28 L268.81,611.51 L272.49,611.71 L276.30,611.87 L280.00,612.00 L283.44,612.09 L286.77,612.14 L290.22,612.17 L294.05,612.18 L298.50,612.20 L304.23,612.23 L311.07,612.25 L318.05,612.27 L324.15,612.29 L328.40,612.30" fill="none" stroke="#000" stroke-width="2.2" stroke-linejoin="round" stroke-linecap="round" stroke-dasharray="5.5,3.5" stroke-linecap="butt"/>
<line x1="188.90" y1="523.20" x2="193.50" y2="523.20" stroke="#222" stroke-width="1.0"/>
<line x1="120.30" y1="448.80" x2="120.30" y2="459.80" stroke="#222" stroke-width="1.0"/>
<line x1="118.00" y1="448.80" x2="122.60" y2="448.80" stroke="#222" stroke-width="1.0"/>
<line x1="118.00" y1="459.80" x2="122.60" y2="459.80" stroke="#222" stroke-width="1.0"/>
<line x1="155.60" y1="444.50" x2="155.60" y2="457.50" stroke="#222" stroke-width="1.0"/>
<line x1="153.30" y1="444.50" x2="157.90" y2="444.50" stroke="#222" stroke-width="1.0"/>
<line x1="153.30" y1="457.50" x2="157.90" y2="457.50" stroke="#222" stroke-width="1.0"/>
<line x1="191.20" y1="495.80" x2="191.20" y2="577.70" stroke="#222" stroke-width="1.0"/>
<line x1="188.90" y1="495.80" x2="193.50" y2="495.80" stroke="#222" stroke-width="1.0"/>
<line x1="188.90" y1="577.70" x2="193.50" y2="577.70" stroke="#222" stroke-width="1.0"/>
<line x1="226.80" y1="580.30" x2="226.80" y2="607.70" stroke="#222" stroke-width="1.0"/>
<line x1="224.50" y1="580.30" x2="229.10" y2="580.30" stroke="#222" stroke-width="1.0"/>
<line x1="224.50" y1="607.70" x2="229.10" y2="607.70" stroke="#222" stroke-width="1.0"/>
<line x1="262.70" y1="603.00" x2="262.70" y2="614.00" stroke="#222" stroke-width="1.0"/>
<line x1="260.40" y1="603.00" x2="265.00" y2="603.00" stroke="#222" stroke-width="1.0"/>
<line x1="260.40" y1="614.00" x2="265.00" y2="614.00" stroke="#222" stroke-width="1.0"/>
<line x1="298.50" y1="603.00" x2="298.50" y2="614.00" stroke="#222" stroke-width="1.0"/>
<line x1="296.20" y1="603.00" x2="300.80" y2="603.00" stroke="#222" stroke-width="1.0"/>
<line x1="296.20" y1="614.00" x2="300.80" y2="614.00" stroke="#222" stroke-width="1.0"/>
<path d="M120.30,449.90 L124.20,454.20 L120.30,458.50 L116.40,454.20 Z" fill="#fff" stroke="#333" stroke-width="0.9"/>
<path d="M155.60,446.90 L159.50,451.20 L155.60,455.50 L151.70,451.20 Z" fill="#fff" stroke="#333" stroke-width="0.9"/>
<path d="M191.20,546.20 L195.10,550.50 L191.20,554.80 L187.30,550.50 Z" fill="#fff" stroke="#333" stroke-width="0.9"/>
<path d="M226.80,595.40 L230.70,599.70 L226.80,604.00 L222.90,599.70 Z" fill="#fff" stroke="#333" stroke-width="0.9"/>
<path d="M262.70,606.10 L266.60,610.40 L262.70,614.70 L258.80,610.40 Z" fill="#fff" stroke="#333" stroke-width="0.9"/>
<path d="M298.50,606.10 L302.40,610.40 L298.50,614.70 L294.60,610.40 Z" fill="#fff" stroke="#333" stroke-width="0.9"/>
<path d="M120.30,449.90 L124.20,454.20 L120.30,458.50 L116.40,454.20 Z" fill="#c4c4c4" stroke="#333" stroke-width="0.9"/>
<path d="M155.60,443.50 L159.50,447.80 L155.60,452.10 L151.70,447.80 Z" fill="#c4c4c4" stroke="#333" stroke-width="0.9"/>
<path d="M191.30,505.90 L195.20,510.20 L191.30,514.50 L187.40,510.20 Z" fill="#c4c4c4" stroke="#333" stroke-width="0.9"/>
<path d="M226.80,585.50 L230.70,589.80 L226.80,594.10 L222.90,589.80 Z" fill="#c4c4c4" stroke="#333" stroke-width="0.9"/>
<path d="M262.70,606.30 L266.60,610.60 L262.70,614.90 L258.80,610.60 Z" fill="#c4c4c4" stroke="#333" stroke-width="0.9"/>
<path d="M298.50,606.30 L302.40,610.60 L298.50,614.90 L294.60,610.60 Z" fill="#c4c4c4" stroke="#333" stroke-width="0.9"/>
<line x1="236.20" y1="438.00" x2="265.00" y2="438.00" stroke="#000" stroke-width="2.0"/>
<path d="M250.70,434.40 L254.00,438.00 L250.70,441.60 L247.40,438.00 Z" fill="#fff" stroke="#333" stroke-width="0.9"/>
<text x="267.41" y="441.90" font-size="13.66" font-style="italic" fill="#000" stroke="#000" stroke-width="0.18" textLength="54.99" lengthAdjust="spacingAndGlyphs">Tmod1+/+</text>
<line x1="236.20" y1="453.20" x2="265.00" y2="453.20" stroke="#000" stroke-width="2.0" stroke-dasharray="5.5,3.5"/>
<path d="M250.70,449.60 L254.00,453.20 L250.70,456.80 L247.40,453.20 Z" fill="#c4c4c4" stroke="#333" stroke-width="0.9"/>
<text x="267.39" y="457.20" font-size="13.66" font-style="italic" fill="#000" stroke="#000" stroke-width="0.18" textLength="49.87" lengthAdjust="spacingAndGlyphs">Tmod1-/-</text>
<line x1="391.90" y1="450.80" x2="391.90" y2="615.60" stroke="#262626" stroke-width="1.3"/>
<line x1="391.30" y1="615.60" x2="512.90" y2="615.60" stroke="#262626" stroke-width="1.3"/>
<line x1="512.30" y1="615.60" x2="512.30" y2="618.60" stroke="#262626" stroke-width="1.1"/>
<line x1="388.90" y1="615.60" x2="391.90" y2="615.60" stroke="#262626" stroke-width="1.0"/>
<line x1="389.90" y1="607.38" x2="391.90" y2="607.38" stroke="#262626" stroke-width="0.9"/>
<line x1="389.90" y1="599.17" x2="391.90" y2="599.17" stroke="#262626" stroke-width="0.9"/>
<line x1="389.90" y1="590.96" x2="391.90" y2="590.96" stroke="#262626" stroke-width="0.9"/>
<line x1="389.90" y1="582.74" x2="391.90" y2="582.74" stroke="#262626" stroke-width="0.9"/>
<line x1="388.90" y1="574.52" x2="391.90" y2="574.52" stroke="#262626" stroke-width="1.0"/>
<line x1="389.90" y1="566.31" x2="391.90" y2="566.31" stroke="#262626" stroke-width="0.9"/>
<line x1="389.90" y1="558.10" x2="391.90" y2="558.10" stroke="#262626" stroke-width="0.9"/>
<line x1="389.90" y1="549.88" x2="391.90" y2="549.88" stroke="#262626" stroke-width="0.9"/>
<line x1="389.90" y1="541.66" x2="391.90" y2="541.66" stroke="#262626" stroke-width="0.9"/>
<line x1="388.90" y1="533.45" x2="391.90" y2="533.45" stroke="#262626" stroke-width="1.0"/>
<line x1="389.90" y1="525.24" x2="391.90" y2="525.24" stroke="#262626" stroke-width="0.9"/>
<line x1="389.90" y1="517.02" x2="391.90" y2="517.02" stroke="#262626" stroke-width="0.9"/>
<line x1="389.90" y1="508.81" x2="391.90" y2="508.81" stroke="#262626" stroke-width="0.9"/>
<line x1="389.90" y1="500.59" x2="391.90" y2="500.59" stroke="#262626" stroke-width="0.9"/>
<line x1="388.90" y1="492.38" x2="391.90" y2="492.38" stroke="#262626" stroke-width="1.0"/>
<line x1="389.90" y1="484.16" x2="391.90" y2="484.16" stroke="#262626" stroke-width="0.9"/>
<line x1="389.90" y1="475.94" x2="391.90" y2="475.94" stroke="#262626" stroke-width="0.9"/>
<line x1="389.90" y1="467.73" x2="391.90" y2="467.73" stroke="#262626" stroke-width="0.9"/>
<line x1="389.90" y1="459.51" x2="391.90" y2="459.51" stroke="#262626" stroke-width="0.9"/>
<line x1="388.90" y1="451.30" x2="391.90" y2="451.30" stroke="#262626" stroke-width="1.0"/>
<text x="369.36" y="621.31" font-size="12.6" fill="#111" stroke="#111" stroke-width="0.18" textLength="15.22" lengthAdjust="spacingAndGlyphs">0.0</text>
<text x="363.16" y="580.23" font-size="12.6" fill="#111" stroke="#111" stroke-width="0.18" textLength="21.44" lengthAdjust="spacingAndGlyphs">50.0</text>
<text x="357.07" y="539.16" font-size="12.6" fill="#111" stroke="#111" stroke-width="0.18" textLength="27.54" lengthAdjust="spacingAndGlyphs">100.0</text>
<text x="357.07" y="498.08" font-size="12.6" fill="#111" stroke="#111" stroke-width="0.18" textLength="27.54" lengthAdjust="spacingAndGlyphs">150.0</text>
<text x="357.36" y="457.01" font-size="12.6" fill="#111" stroke="#111" stroke-width="0.18" textLength="27.25" lengthAdjust="spacingAndGlyphs">200.0</text>
<rect x="418.30" y="472.70" width="34.00" height="142.90" fill="#fff" stroke="#262626" stroke-width="1.4"/>
<rect x="452.30" y="467.20" width="34.40" height="148.40" fill="#cfcfcf" stroke="#262626" stroke-width="1.4"/>
<line x1="435.20" y1="469.00" x2="435.20" y2="477.30" stroke="#222" stroke-width="1.0"/>
<line x1="433.40" y1="469.00" x2="437.00" y2="469.00" stroke="#222" stroke-width="1.0"/>
<line x1="433.40" y1="477.30" x2="437.00" y2="477.30" stroke="#222" stroke-width="1.0"/>
<line x1="469.80" y1="464.20" x2="469.80" y2="471.00" stroke="#222" stroke-width="1.0"/>
<line x1="468.00" y1="464.20" x2="471.60" y2="464.20" stroke="#222" stroke-width="1.0"/>
<line x1="468.00" y1="471.00" x2="471.60" y2="471.00" stroke="#222" stroke-width="1.0"/>
<path d="M435.20,461.30 L435.20,458.60 L463.80,458.60 L463.80,461.30" fill="none" stroke="#111" stroke-width="1.9" stroke-linejoin="round" stroke-linecap="round" stroke-linecap="butt" stroke-linejoin="miter"/>
<text x="399.24" y="444.80" font-size="15.31" fill="#000" stroke="#000" stroke-width="0.18" textLength="91.67" lengthAdjust="spacingAndGlyphs">50% Cell Lysis</text>
<text transform="translate(351.44,582.63) rotate(-90)" x="0" y="0" font-size="15.29" fill="#000" stroke="#000" stroke-width="0.18" textLength="108.71" lengthAdjust="spacingAndGlyphs">Osmolality (mOs)</text>
</svg>
</body></html>
